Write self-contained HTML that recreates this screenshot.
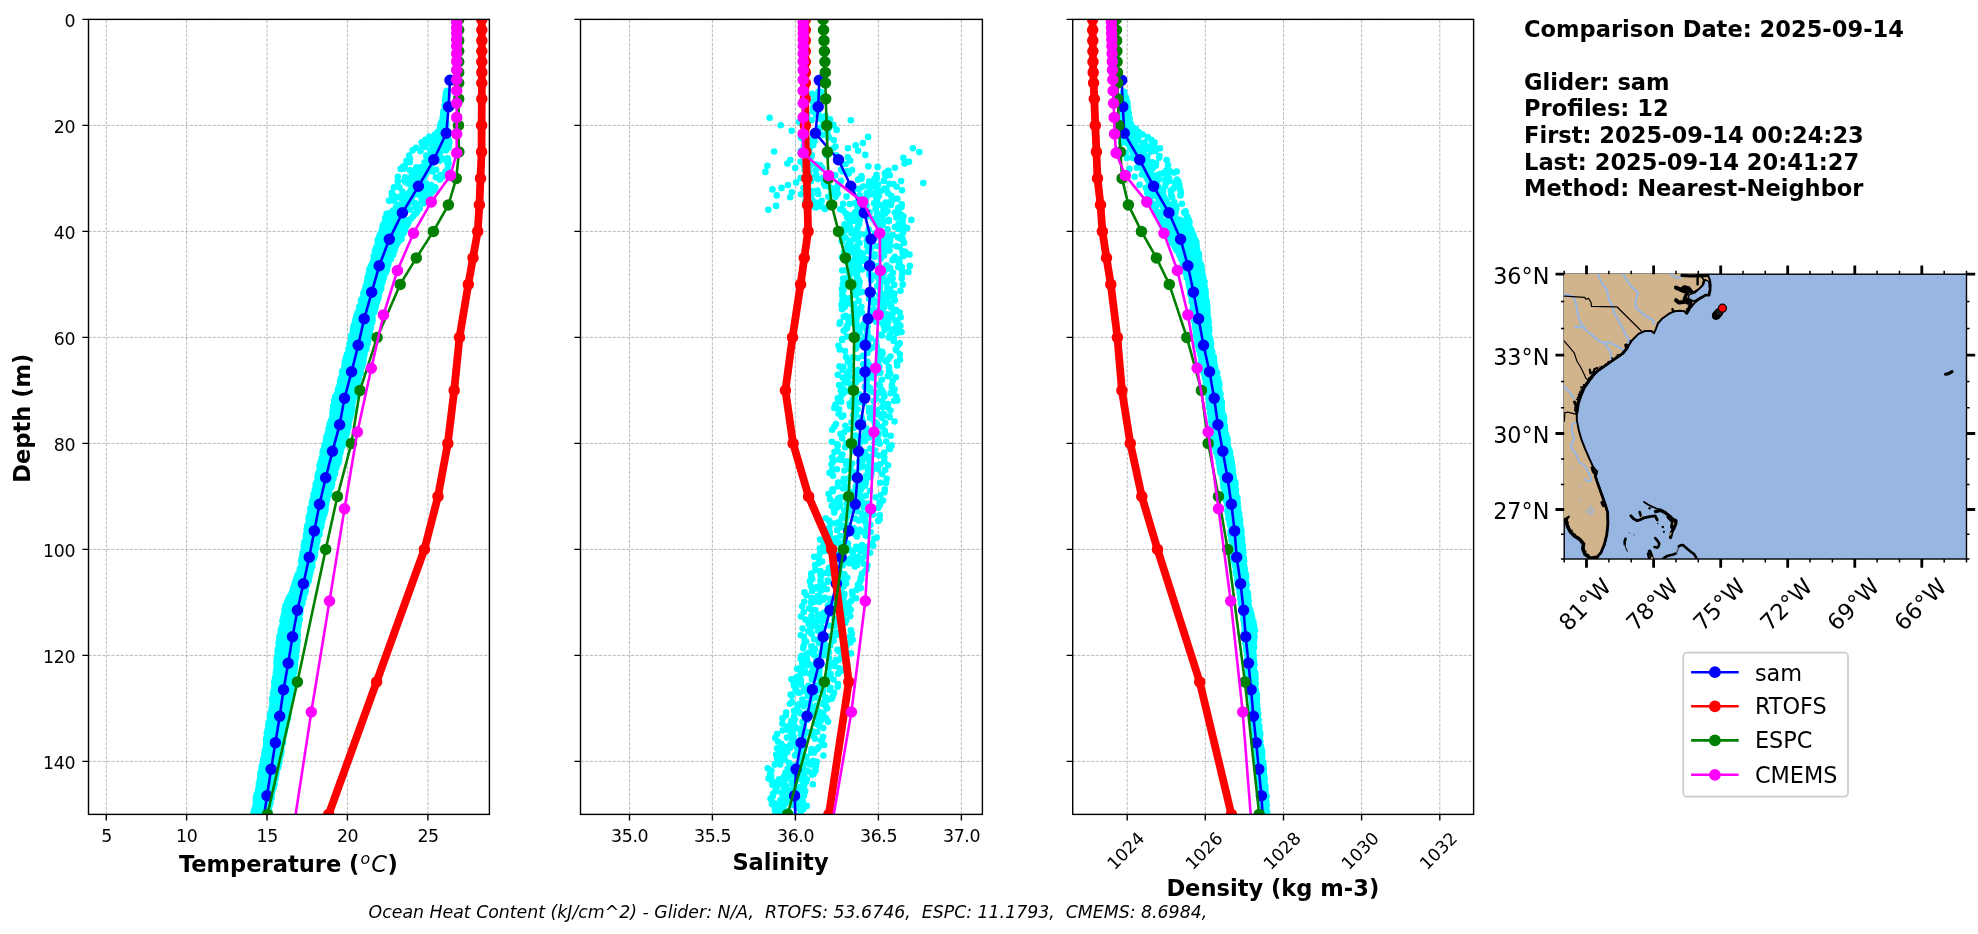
<!DOCTYPE html><html><head><meta charset="utf-8"><title>Glider comparison</title><style>html,body{margin:0;padding:0;background:#fff}svg{display:block;will-change:transform}text{font-family:'DejaVu Sans','Liberation Sans',sans-serif;fill:#000}</style></head><body>
<svg width="1978" height="934" viewBox="0 0 1978 934">
<rect width="1978" height="934" fill="#fff"/>
<clipPath id="c0"><rect x="88.5" y="19.4" width="400.9" height="795.0"/></clipPath>
<path d="M106.3 814.4V19.4M186.6 814.4V19.4M267.0 814.4V19.4M347.4 814.4V19.4M427.9 814.4V19.4M88.5 19.4H489.4M88.5 125.4H489.4M88.5 231.4H489.4M88.5 337.4H489.4M88.5 443.4H489.4M88.5 549.4H489.4M88.5 655.4H489.4M88.5 761.4H489.4" stroke="#b0b0b0" stroke-width="0.87" stroke-dasharray="3.2 1.4" fill="none"/>
<g clip-path="url(#c0)">
<polygon points="446.7,93.6 446.2,98.9 445.7,104.2 445.1,109.5 444.4,114.8 443.3,120.1 442.2,125.4 441.0,130.7 432.6,136.0 433.6,141.3 431.1,146.6 428.6,151.9 426.1,157.2 423.3,162.5 420.2,167.8 417.1,173.1 414.0,178.4 410.9,183.7 407.8,189.0 404.6,194.3 401.4,199.6 398.2,204.9 395.0,210.2 392.1,215.5 389.5,220.8 384.4,226.1 382.7,231.4 380.7,236.7 379.0,242.0 377.6,247.3 376.1,252.6 374.7,257.9 372.9,263.2 371.2,268.5 369.9,273.8 368.5,279.1 367.2,284.4 365.8,289.7 364.4,295.0 362.8,300.3 361.2,305.6 359.6,310.9 357.9,316.2 356.5,321.5 355.1,326.8 353.8,332.1 352.5,337.4 351.2,342.7 349.9,348.0 348.5,353.3 347.2,358.6 345.8,363.9 344.4,369.2 343.0,374.5 341.5,379.8 340.0,385.1 338.5,390.4 337.1,395.7 335.8,401.0 334.8,406.3 333.7,411.6 332.7,416.9 331.6,422.2 330.4,427.5 329.1,432.8 327.8,438.1 326.4,443.4 325.1,448.7 323.8,454.0 322.6,459.3 321.3,464.6 320.1,469.9 318.8,475.2 317.6,480.5 316.5,485.8 315.4,491.1 314.2,496.4 313.1,501.7 312.1,507.0 311.1,512.3 310.2,517.6 309.3,522.9 308.3,528.2 307.4,533.5 306.5,538.8 305.6,544.1 304.7,549.4 303.8,554.7 302.9,560.0 301.8,565.3 300.8,570.6 298.8,575.9 296.8,581.2 294.7,586.5 292.7,591.8 290.6,597.1 288.6,602.4 286.5,607.7 285.4,613.0 284.4,618.3 283.4,623.6 282.5,628.9 281.5,634.2 280.6,639.5 279.7,644.8 279.2,650.1 278.7,655.4 278.1,660.7 277.6,666.0 277.0,671.3 276.4,676.6 275.7,681.9 275.1,687.2 274.6,692.5 273.9,697.8 273.1,703.1 272.3,708.4 271.6,713.7 270.8,719.0 269.9,724.3 269.0,729.6 268.2,734.9 267.3,740.2 266.5,745.5 265.6,750.8 264.8,756.1 263.9,761.4 262.9,766.7 262.0,772.0 261.1,777.3 260.2,782.6 259.2,787.9 258.3,793.2 257.4,798.5 256.6,803.8 255.7,809.1 254.8,814.4 254.1,819.7 266.1,819.7 266.8,814.4 267.9,809.1 269.0,803.8 270.0,798.5 271.1,793.2 272.2,787.9 273.4,782.6 274.5,777.3 275.6,772.0 276.7,766.7 277.9,761.4 278.9,756.1 279.9,750.8 280.9,745.5 281.9,740.2 283.0,734.9 284.0,729.6 285.0,724.3 286.0,719.0 287.0,713.7 287.9,708.4 288.8,703.1 289.7,697.8 290.6,692.5 291.1,687.2 291.7,681.9 292.4,676.6 293.0,671.3 293.6,666.0 294.1,660.7 294.7,655.4 295.2,650.1 295.7,644.8 296.1,639.5 296.6,634.2 297.2,628.9 297.7,623.6 298.3,618.3 298.8,613.0 299.5,607.7 301.0,602.4 302.5,597.1 304.0,591.8 305.4,586.5 306.9,581.2 308.4,575.9 309.8,570.6 311.1,565.3 312.4,560.0 313.6,554.7 314.7,549.4 315.9,544.1 317.0,538.8 318.2,533.5 319.3,528.2 320.6,522.9 321.8,517.6 323.1,512.3 324.3,507.0 325.7,501.7 327.1,496.4 328.6,491.1 330.0,485.8 331.5,480.5 333.0,475.2 334.6,469.9 336.1,464.6 337.7,459.3 339.3,454.0 340.9,448.7 342.5,443.4 344.1,438.1 345.8,432.8 347.4,427.5 348.5,422.2 349.5,416.9 350.4,411.6 351.3,406.3 352.2,401.0 353.4,395.7 354.7,390.4 356.1,385.1 357.4,379.8 358.8,374.5 360.1,369.2 361.4,363.9 362.6,358.6 363.9,353.3 365.2,348.0 366.4,342.7 367.5,337.4 368.6,332.1 369.6,326.8 370.7,321.5 371.9,316.2 373.3,310.9 374.7,305.6 376.1,300.3 377.4,295.0 379.1,289.7 380.7,284.4 382.4,279.1 384.0,273.8 385.7,268.5 387.6,263.2 389.7,257.9 392.4,252.6 395.0,247.3 397.6,242.0 400.5,236.7 403.7,231.4 405.9,226.1 402.5,220.8 405.1,215.5 408.0,210.2 411.2,204.9 414.4,199.6 417.6,194.3 420.8,189.0 423.9,183.7 427.0,178.4 430.1,173.1 433.2,167.8 436.3,162.5 439.1,157.2 441.6,151.9 444.1,146.6 446.6,141.3 447.1,136.0 445.0,130.7 444.8,125.4 444.6,120.1 444.4,114.8 445.1,109.5 445.7,104.2 446.2,98.9 446.7,93.6" fill="#00ffff"/>
<path d="M446.6 91.1h0M447.1 90.9h0M446.9 91.7h0M446.9 92.0h0M446.9 92.0h0M445.9 93.6h0M446.5 95.5h0M445.9 93.9h0M447.2 94.7h0M446.8 94.7h0M447.3 96.1h0M447.0 96.8h0M445.6 96.3h0M446.6 97.3h0M446.4 97.3h0M446.4 99.6h0M446.2 98.8h0M445.1 99.2h0M445.6 100.0h0M446.3 100.0h0M445.7 102.1h0M446.5 103.1h0M445.2 102.8h0M446.0 102.6h0M446.6 102.6h0M446.8 104.2h0M445.4 105.9h0M444.7 105.2h0M445.3 105.3h0M446.0 105.3h0M446.4 107.4h0M445.8 108.2h0M445.5 107.8h0M445.3 107.9h0M445.7 107.9h0M443.6 111.1h0M445.4 111.9h0M445.9 110.0h0M444.4 110.6h0M445.8 110.6h0M443.5 112.2h0M443.2 113.9h0M443.4 112.5h0M444.3 113.2h0M445.6 113.2h0M444.5 116.9h0M445.5 116.8h0M443.5 115.6h0M443.8 115.9h0M445.9 115.9h0M442.7 117.8h0M442.9 118.5h0M444.5 117.9h0M442.5 118.5h0M445.4 118.5h0M446.1 121.7h0M443.9 121.5h0M444.7 120.0h0M442.5 121.2h0M445.2 121.2h0M443.0 123.5h0M441.4 124.2h0M441.1 122.7h0M441.0 123.8h0M446.4 123.8h0M440.2 125.5h0M440.9 126.1h0M440.4 127.5h0M440.5 126.5h0M446.0 126.5h0M442.2 128.1h0M445.6 130.4h0M442.9 129.1h0M439.8 129.1h0M446.3 129.1h0M445.7 130.9h0M438.1 133.0h0M442.9 130.8h0M437.9 131.8h0M445.9 131.8h0M446.4 134.9h0M437.6 134.1h0M436.2 135.1h0M441.6 135.1h0M438.6 133.7h0M435.2 134.4h0M447.2 134.4h0M445.3 137.7h0M433.5 137.1h0M436.1 135.8h0M429.5 136.5h0M434.1 137.6h0M429.6 137.1h0M447.5 137.1h0M448.3 139.4h0M429.8 139.0h0M429.2 138.9h0M440.0 140.8h0M445.4 139.7h0M425.4 139.7h0M448.5 139.7h0M447.0 143.1h0M442.3 142.3h0M425.5 143.1h0M430.0 143.2h0M448.8 142.1h0M421.7 142.4h0M449.4 142.4h0M422.7 146.1h0M441.7 145.9h0M448.8 144.6h0M434.1 143.7h0M432.9 147.5h0M444.7 146.9h0M425.3 147.0h0M433.6 147.4h0M416.1 147.7h0M448.5 147.7h0M433.5 150.1h0M445.9 150.4h0M430.7 150.2h0M420.5 151.1h0M412.7 150.3h0M430.3 153.0h0M431.4 151.9h0M430.4 152.4h0M439.9 153.1h0M426.3 155.6h0M429.1 155.5h0M429.1 156.8h0M436.7 156.8h0M409.2 155.6h0M440.4 157.3h0M426.8 157.6h0M410.0 159.0h0M443.3 158.8h0M447.6 158.3h0M447.0 162.1h0M424.6 162.2h0M439.7 160.7h0M427.4 160.1h0M406.5 160.9h0M448.1 160.9h0M424.9 163.1h0M431.8 162.4h0M448.0 164.8h0M409.8 162.3h0M448.5 163.6h0M421.6 167.1h0M416.6 167.3h0M428.5 165.1h0M404.7 166.0h0M403.4 166.2h0M436.1 169.8h0M403.7 168.7h0M416.6 170.0h0M415.8 168.9h0M400.7 168.9h0M447.7 168.9h0M411.3 171.0h0M432.5 171.5h0M410.0 170.2h0M413.7 172.1h0M445.5 171.5h0M440.7 175.0h0M420.0 175.0h0M416.6 174.7h0M443.6 175.0h0M417.9 175.6h0M405.1 177.4h0M411.6 175.7h0M435.9 177.3h0M397.8 176.8h0M442.5 176.8h0M405.4 178.8h0M439.9 179.6h0M407.5 179.0h0M414.8 179.1h0M404.3 180.8h0M409.6 181.8h0M397.8 181.6h0M405.8 182.2h0M425.9 184.5h0M408.7 183.8h0M426.3 183.6h0M431.1 185.1h0M399.5 187.4h0M429.4 188.3h0M418.6 187.9h0M421.0 186.2h0M394.0 187.4h0M435.2 187.4h0M416.0 190.4h0M418.9 188.7h0M426.1 190.1h0M415.0 188.9h0M434.4 190.1h0M402.5 191.9h0M422.0 192.7h0M409.2 193.2h0M423.1 193.1h0M391.8 192.7h0M431.5 192.7h0M402.9 194.1h0M393.9 195.8h0M418.4 194.8h0M410.9 195.3h0M392.0 195.4h0M429.2 195.4h0M425.5 197.9h0M421.7 197.9h0M402.4 199.2h0M398.0 197.1h0M394.0 200.7h0M422.5 199.9h0M421.7 199.4h0M389.1 200.5h0M389.2 200.7h0M426.3 200.7h0M417.3 204.0h0M417.3 204.4h0M414.2 202.8h0M403.6 204.6h0M424.0 203.3h0M399.2 204.9h0M415.3 207.1h0M398.3 206.0h0M396.0 207.2h0M408.2 209.8h0M405.4 207.4h0M409.7 209.3h0M406.9 207.4h0M419.8 208.6h0M399.0 211.9h0M417.2 211.7h0M396.0 211.0h0M393.2 210.5h0M392.3 215.0h0M415.6 213.8h0M389.9 213.1h0M388.4 213.5h0M388.5 213.2h0M386.6 213.9h0M414.6 213.9h0M396.8 216.3h0M399.9 216.2h0M394.7 215.4h0M393.0 217.8h0M388.7 216.6h0M386.5 216.6h0M413.0 216.6h0M391.2 218.9h0M396.4 220.4h0M407.1 220.2h0M385.2 218.0h0M403.4 220.3h0M385.5 219.2h0M410.5 219.2h0M407.4 222.7h0M405.6 223.1h0M390.2 220.8h0M387.9 221.9h0M401.2 223.0h0M384.9 221.9h0M408.6 221.9h0M397.0 223.3h0M402.7 223.8h0M406.2 224.9h0M390.7 223.5h0M389.4 224.9h0M383.3 224.5h0M407.4 224.5h0M396.8 226.9h0M387.9 227.4h0M382.6 226.6h0M393.8 228.4h0M398.3 228.2h0M382.7 227.2h0M405.7 227.2h0M398.8 229.3h0M382.1 229.8h0M398.1 229.6h0M387.8 230.3h0M404.2 229.1h0M382.0 229.8h0M405.0 229.8h0M385.4 233.2h0M398.5 232.5h0M385.6 233.7h0M388.2 233.3h0M386.2 231.7h0M381.1 232.5h0M404.0 232.5h0M384.0 234.4h0M389.4 235.5h0M402.0 234.2h0M388.9 234.3h0M402.6 234.2h0M379.7 235.1h0M401.8 235.1h0M398.9 238.4h0M401.5 238.9h0M386.2 236.9h0M400.1 238.4h0M379.3 238.2h0M379.2 237.8h0M401.3 237.8h0M377.8 239.8h0M385.6 241.6h0M380.5 241.6h0M382.4 240.0h0M396.1 241.3h0M377.8 240.4h0M399.5 240.4h0M397.0 242.2h0M384.9 244.1h0M377.7 242.8h0M394.7 243.8h0M377.9 241.8h0M378.4 243.1h0M397.6 243.1h0M395.3 245.3h0M382.1 246.9h0M389.4 245.1h0M391.5 245.2h0M382.1 244.4h0M377.7 245.7h0M396.0 245.7h0M376.1 247.7h0M385.4 249.6h0M395.2 248.1h0M380.7 248.2h0M385.7 249.5h0M376.8 248.4h0M394.9 248.4h0M390.3 251.3h0M381.4 250.5h0M382.1 251.8h0M376.5 250.2h0M389.9 250.3h0M374.9 251.0h0M394.3 251.0h0M393.1 254.7h0M393.3 253.0h0M375.8 252.6h0M383.8 254.2h0M382.8 253.0h0M375.1 253.7h0M392.4 253.7h0M389.3 256.7h0M375.7 257.2h0M379.0 256.5h0M380.5 256.9h0M377.2 255.6h0M373.7 256.3h0M391.3 256.3h0M378.6 258.7h0M390.9 259.0h0M376.9 259.8h0M384.6 260.3h0M374.5 258.9h0M373.9 259.0h0M390.9 259.0h0M377.1 260.6h0M375.2 262.9h0M382.3 262.7h0M378.5 262.6h0M379.9 261.0h0M373.1 261.6h0M389.0 261.6h0M382.0 263.5h0M377.4 263.3h0M374.5 263.6h0M381.6 264.7h0M374.5 263.0h0M371.8 264.3h0M388.4 264.3h0M373.6 267.7h0M379.8 265.8h0M371.8 266.6h0M379.8 267.3h0M371.6 266.0h0M370.6 266.9h0M387.4 266.9h0M386.2 269.1h0M379.3 269.2h0M376.7 270.5h0M387.0 269.2h0M372.8 270.2h0M369.3 269.6h0M386.4 269.6h0M383.0 272.0h0M384.1 272.1h0M371.5 270.9h0M378.3 272.6h0M384.6 271.1h0M369.1 272.2h0M386.0 272.2h0M372.9 274.9h0M384.1 273.8h0M376.5 275.7h0M384.8 274.1h0M370.1 276.0h0M368.6 274.9h0M384.0 274.9h0M374.0 278.6h0M378.0 278.4h0M370.0 278.3h0M371.1 277.3h0M381.9 278.4h0M367.6 277.5h0M383.8 277.5h0M373.1 279.2h0M370.8 280.8h0M382.0 278.9h0M376.2 280.8h0M367.2 281.1h0M367.4 280.2h0M382.8 280.2h0M371.1 282.6h0M375.8 282.6h0M377.1 282.7h0M373.3 281.5h0M376.4 282.8h0M367.0 282.8h0M382.2 282.8h0M368.2 285.4h0M367.0 284.5h0M372.5 284.4h0M372.7 285.5h0M365.9 285.8h0M366.3 285.5h0M381.3 285.5h0M365.4 288.1h0M370.9 289.3h0M366.8 289.1h0M381.2 288.7h0M378.2 287.3h0M365.3 288.1h0M379.9 288.1h0M366.6 291.5h0M379.3 289.6h0M369.7 291.4h0M366.5 291.8h0M368.4 291.6h0M364.6 290.8h0M380.2 290.8h0M367.5 293.4h0M368.4 292.2h0M366.2 292.5h0M378.6 293.9h0M377.9 292.5h0M363.3 293.4h0M378.7 293.4h0M368.3 297.0h0M371.6 296.3h0M376.9 295.0h0M378.8 296.4h0M368.9 296.8h0M363.9 296.1h0M378.3 296.1h0M374.3 298.6h0M364.5 299.4h0M362.4 299.6h0M365.8 299.1h0M377.9 298.9h0M362.1 298.7h0M378.1 298.7h0M363.3 301.7h0M368.0 301.4h0M375.8 300.4h0M364.6 301.8h0M361.2 300.0h0M361.0 301.4h0M377.2 301.4h0M369.8 304.2h0M363.4 304.3h0M368.0 303.0h0M375.7 303.3h0M362.5 302.9h0M361.3 304.0h0M376.2 304.0h0M363.7 305.4h0M370.1 306.8h0M365.1 307.0h0M366.7 307.8h0M371.6 306.0h0M359.2 306.7h0M375.5 306.7h0M362.4 308.1h0M371.7 308.0h0M367.8 310.5h0M360.8 308.5h0M368.7 309.3h0M359.6 309.3h0M375.0 309.3h0M362.7 310.8h0M372.8 312.7h0M369.9 310.7h0M372.1 312.6h0M365.6 312.6h0M357.9 312.0h0M374.4 312.0h0M357.4 314.2h0M369.7 315.1h0M371.4 315.2h0M361.3 314.8h0M364.3 315.4h0M357.1 314.6h0M372.6 314.6h0M359.7 318.3h0M356.2 316.6h0M360.0 317.9h0M372.4 317.9h0M361.6 318.3h0M356.3 317.3h0M372.4 317.3h0M367.3 320.3h0M372.4 319.8h0M369.9 320.4h0M370.2 319.7h0M367.9 320.1h0M355.5 319.9h0M372.6 319.9h0M370.6 321.6h0M355.0 321.5h0M371.0 322.1h0M357.0 321.3h0M355.2 323.1h0M355.6 322.6h0M372.1 322.6h0M364.4 324.8h0M368.4 326.1h0M369.7 324.1h0M369.3 326.3h0M370.7 324.2h0M354.0 325.2h0M370.4 325.2h0M367.8 328.2h0M368.0 328.2h0M358.3 326.8h0M354.9 328.5h0M356.9 327.4h0M353.2 327.9h0M370.7 327.9h0M365.5 330.2h0M358.3 331.7h0M361.6 331.4h0M363.7 329.3h0M360.0 330.3h0M353.0 330.5h0M369.8 330.5h0M355.8 334.1h0M353.5 334.0h0M355.0 331.8h0M355.5 333.9h0M369.7 331.8h0M352.6 333.2h0M369.8 333.2h0M360.3 335.4h0M366.4 335.2h0M368.5 335.2h0M355.1 336.3h0M360.3 334.8h0M351.3 335.8h0M368.5 335.8h0M365.0 338.8h0M357.1 338.2h0M357.8 339.5h0M352.1 339.5h0M351.0 337.7h0M351.9 338.5h0M368.4 338.5h0M366.3 340.4h0M358.4 341.2h0M363.9 341.8h0M361.9 340.7h0M356.0 340.2h0M350.9 341.1h0M368.1 341.1h0M357.4 344.5h0M360.0 342.8h0M357.9 344.8h0M353.7 342.9h0M354.9 344.3h0M349.5 343.8h0M367.5 343.8h0M354.7 346.5h0M351.6 346.0h0M352.2 347.7h0M362.2 345.4h0M366.5 345.4h0M350.1 346.4h0M366.1 346.4h0M356.1 348.3h0M359.9 348.0h0M351.8 348.8h0M348.6 348.8h0M362.7 349.6h0M348.9 349.1h0M366.4 349.1h0M358.6 351.5h0M361.1 352.8h0M355.3 351.9h0M361.3 351.5h0M351.5 352.3h0M348.4 351.7h0M364.7 351.7h0M359.3 354.7h0M355.1 353.9h0M358.4 353.3h0M354.4 355.1h0M360.0 354.7h0M347.2 354.4h0M364.4 354.4h0M353.6 357.5h0M363.4 356.2h0M358.2 357.7h0M353.2 357.0h0M364.2 355.8h0M346.1 357.0h0M363.3 357.0h0M355.0 358.6h0M356.0 359.8h0M358.7 359.7h0M357.3 360.5h0M355.0 359.4h0M345.5 359.7h0M363.5 359.7h0M359.0 361.3h0M363.2 361.9h0M345.6 361.7h0M352.1 361.0h0M352.4 362.1h0M345.0 362.3h0M363.1 362.3h0M357.9 366.1h0M353.8 364.2h0M359.0 364.7h0M347.8 364.0h0M358.6 365.8h0M344.5 365.0h0M362.5 365.0h0M361.5 367.2h0M355.3 368.5h0M358.7 367.5h0M348.7 367.7h0M345.5 368.5h0M344.4 367.6h0M361.6 367.6h0M347.3 370.1h0M346.0 368.9h0M356.2 369.7h0M347.1 369.7h0M351.6 370.1h0M343.4 370.3h0M360.2 370.3h0M358.1 371.7h0M357.6 374.0h0M356.8 372.0h0M357.7 373.3h0M342.0 371.6h0M342.7 372.9h0M360.8 372.9h0M343.7 374.9h0M355.9 375.2h0M343.9 376.6h0M356.2 374.7h0M358.1 375.8h0M342.0 375.6h0M359.0 375.6h0M356.4 377.4h0M353.6 378.3h0M354.6 378.0h0M357.3 378.4h0M345.3 377.5h0M341.0 378.2h0M358.8 378.2h0M342.3 380.8h0M349.2 381.0h0M356.2 379.6h0M355.8 380.8h0M350.4 381.3h0M340.1 380.9h0M357.4 380.9h0M340.2 383.9h0M351.1 382.3h0M350.6 384.0h0M356.9 383.1h0M357.8 383.5h0M340.1 383.5h0M357.1 383.5h0M350.2 385.7h0M354.8 385.8h0M347.3 386.2h0M353.0 385.4h0M346.5 386.0h0M339.3 386.2h0M356.3 386.2h0M345.2 388.8h0M342.6 388.8h0M356.3 389.2h0M352.8 388.4h0M343.5 388.3h0M338.2 388.8h0M356.8 388.8h0M350.7 392.5h0M347.2 390.3h0M342.4 390.2h0M340.3 392.6h0M348.5 391.9h0M337.9 391.5h0M355.2 391.5h0M348.1 394.6h0M347.5 394.6h0M340.0 394.6h0M344.8 394.8h0M337.8 393.3h0M337.0 394.1h0M354.5 394.1h0M342.3 397.6h0M350.6 396.9h0M340.2 396.2h0M343.4 396.3h0M343.6 397.1h0M335.1 396.8h0M354.7 396.8h0M336.8 400.2h0M345.8 400.5h0M343.2 398.1h0M342.1 399.7h0M353.0 400.7h0M335.0 399.4h0M353.2 399.4h0M338.1 401.1h0M334.2 400.7h0M347.5 401.1h0M353.1 401.0h0M351.1 401.1h0M335.0 402.1h0M352.6 402.1h0M337.1 403.5h0M348.8 405.3h0M350.4 405.3h0M335.1 405.1h0M347.5 404.6h0M333.8 404.7h0M352.2 404.7h0M333.1 406.1h0M345.8 408.2h0M334.4 406.9h0M347.4 406.5h0M350.0 407.3h0M333.4 407.4h0M352.2 407.4h0M345.9 409.1h0M348.3 409.6h0M345.2 410.4h0M340.7 409.7h0M348.1 411.2h0M333.2 410.0h0M352.3 410.0h0M351.4 413.2h0M348.4 412.2h0M344.0 413.9h0M348.5 412.9h0M338.0 412.5h0M332.4 412.7h0M351.0 412.7h0M349.3 416.1h0M337.0 414.0h0M336.6 415.1h0M343.1 416.1h0M349.2 414.1h0M332.5 415.3h0M350.6 415.3h0M336.3 418.9h0M347.1 418.4h0M349.2 417.6h0M332.5 418.1h0M346.9 417.2h0M332.2 418.0h0M350.1 418.0h0M344.0 420.5h0M334.4 420.0h0M345.5 421.4h0M339.6 419.5h0M346.6 421.3h0M331.1 420.6h0M349.2 420.6h0M340.3 423.2h0M341.7 422.4h0M333.6 422.4h0M344.0 422.9h0M341.2 423.0h0M330.0 423.3h0M348.6 423.3h0M336.8 424.9h0M342.0 426.7h0M332.3 426.2h0M336.2 426.0h0M329.6 424.7h0M330.4 425.9h0M348.6 425.9h0M333.7 429.3h0M337.1 429.7h0M344.0 429.4h0M348.0 427.9h0M329.2 427.8h0M328.6 428.6h0M347.9 428.6h0M345.3 431.1h0M346.9 432.3h0M329.1 431.5h0M335.8 430.2h0M347.1 430.6h0M328.7 431.2h0M346.9 431.2h0M335.0 433.7h0M330.3 435.1h0M347.0 433.1h0M327.9 433.2h0M334.2 434.9h0M328.4 433.9h0M346.0 433.9h0M340.6 436.9h0M346.0 435.3h0M329.3 437.2h0M345.1 437.0h0M332.4 436.8h0M326.6 436.5h0M345.9 436.5h0M328.2 439.1h0M329.1 438.5h0M328.6 439.6h0M326.0 439.7h0M329.6 437.9h0M326.1 439.2h0M344.2 439.2h0M342.5 440.9h0M333.9 440.7h0M343.3 442.7h0M337.4 441.7h0M331.8 442.7h0M326.1 441.8h0M344.4 441.8h0M325.6 445.0h0M335.2 443.5h0M341.4 443.8h0M332.5 443.5h0M329.7 445.4h0M324.7 444.5h0M343.4 444.5h0M341.2 446.1h0M342.6 445.9h0M341.0 447.6h0M327.9 447.1h0M329.3 446.5h0M324.4 447.1h0M341.6 447.1h0M340.8 448.7h0M328.7 450.8h0M324.3 450.4h0M328.8 451.0h0M323.5 450.6h0M323.4 449.8h0M341.0 449.8h0M332.5 451.6h0M330.8 453.5h0M326.7 452.6h0M325.1 451.6h0M337.1 453.0h0M322.6 452.4h0M340.5 452.4h0M331.2 454.5h0M325.8 455.4h0M335.2 455.9h0M332.8 454.3h0M323.1 455.7h0M323.0 455.1h0M339.4 455.1h0M327.5 458.6h0M337.3 457.7h0M321.6 458.8h0M330.1 458.7h0M326.2 456.9h0M321.8 457.7h0M339.3 457.7h0M331.6 459.0h0M330.2 460.2h0M330.1 459.4h0M333.8 461.2h0M336.6 459.9h0M321.2 460.4h0M339.0 460.4h0M336.0 464.2h0M329.1 463.0h0M329.7 463.1h0M320.4 464.2h0M324.1 462.2h0M320.4 463.0h0M338.3 463.0h0M321.1 466.2h0M322.9 464.4h0M330.3 465.9h0M328.9 466.2h0M321.3 466.6h0M319.5 465.7h0M336.8 465.7h0M327.8 467.7h0M321.0 468.1h0M321.2 468.6h0M334.2 467.4h0M329.1 469.0h0M320.0 468.3h0M336.1 468.3h0M325.6 471.9h0M327.5 470.7h0M334.9 471.7h0M324.2 470.3h0M324.1 470.8h0M319.3 471.0h0M334.7 471.0h0M332.5 472.4h0M326.6 474.8h0M334.0 472.9h0M325.0 474.0h0M323.9 473.7h0M318.2 473.6h0M335.1 473.6h0M319.3 477.5h0M330.5 477.4h0M328.0 477.1h0M332.3 477.3h0M317.5 476.6h0M317.9 476.3h0M333.6 476.3h0M332.3 479.2h0M320.6 479.0h0M323.8 480.1h0M321.3 478.4h0M327.5 477.9h0M317.7 478.9h0M333.2 478.9h0M323.7 481.6h0M318.3 480.6h0M318.0 481.0h0M322.7 481.0h0M319.9 480.5h0M317.0 481.6h0M332.0 481.6h0M326.2 483.4h0M327.2 484.1h0M324.5 484.5h0M323.1 483.7h0M319.3 483.5h0M315.7 484.2h0M332.1 484.2h0M320.5 487.8h0M318.6 487.0h0M322.9 486.3h0M331.2 486.3h0M327.6 486.0h0M315.9 486.9h0M331.3 486.9h0M320.5 489.4h0M326.3 488.5h0M317.8 490.7h0M326.3 488.6h0M319.6 489.1h0M314.9 489.5h0M329.5 489.5h0M322.0 492.8h0M325.7 492.8h0M321.3 492.9h0M325.2 493.3h0M315.5 493.1h0M314.6 492.2h0M329.2 492.2h0M328.6 495.0h0M319.7 495.6h0M327.2 495.1h0M319.1 494.7h0M320.4 495.4h0M313.5 494.8h0M328.7 494.8h0M317.5 498.2h0M326.1 497.5h0M319.5 496.6h0M317.2 496.5h0M321.6 497.7h0M313.7 497.5h0M327.3 497.5h0M325.2 501.3h0M315.0 499.9h0M326.4 498.8h0M312.5 500.3h0M319.7 501.2h0M312.5 500.1h0M327.0 500.1h0M319.4 503.3h0M317.4 502.4h0M320.6 502.4h0M326.3 503.2h0M319.5 501.7h0M311.8 502.8h0M326.2 502.8h0M324.5 506.6h0M318.3 505.3h0M320.5 506.7h0M316.0 505.5h0M323.5 504.5h0M312.1 505.4h0M325.6 505.4h0M311.9 509.1h0M320.9 508.9h0M325.6 509.1h0M316.7 507.1h0M314.7 508.1h0M310.5 508.1h0M324.8 508.1h0M319.0 510.3h0M325.1 511.1h0M310.4 510.5h0M321.9 510.2h0M320.4 509.4h0M311.0 510.7h0M324.1 510.7h0M312.2 513.4h0M317.7 512.7h0M319.1 513.4h0M324.5 513.6h0M315.5 512.4h0M310.4 513.4h0M324.4 513.4h0M311.3 516.1h0M321.2 516.3h0M321.0 514.8h0M309.0 516.7h0M313.7 516.6h0M309.0 516.0h0M323.7 516.0h0M321.8 518.9h0M313.5 518.5h0M314.1 517.5h0M321.6 518.9h0M322.7 518.5h0M308.7 518.7h0M321.9 518.7h0M320.5 520.8h0M321.1 522.1h0M312.3 521.6h0M322.1 521.3h0M321.9 520.6h0M308.9 521.3h0M322.2 521.3h0M320.2 523.9h0M319.0 523.3h0M309.9 523.6h0M310.1 525.2h0M311.6 524.1h0M308.2 524.0h0M321.4 524.0h0M307.8 525.6h0M318.9 526.2h0M310.5 525.8h0M311.0 525.9h0M307.4 527.0h0M307.1 526.6h0M321.3 526.6h0M310.3 530.1h0M308.3 529.1h0M318.4 530.1h0M308.7 528.9h0M316.8 528.9h0M306.7 529.3h0M320.0 529.3h0M309.2 531.8h0M307.8 532.5h0M309.7 533.0h0M314.3 531.6h0M309.5 532.2h0M307.3 531.9h0M319.4 531.9h0M313.2 534.0h0M316.4 534.3h0M314.8 534.7h0M309.9 534.3h0M306.7 533.7h0M306.0 534.6h0M319.5 534.6h0M312.9 536.8h0M312.1 536.7h0M306.0 536.7h0M308.3 536.2h0M315.1 536.6h0M306.5 537.2h0M317.7 537.2h0M316.6 538.9h0M308.5 538.6h0M314.1 540.3h0M309.5 539.6h0M313.8 540.4h0M305.9 539.9h0M317.5 539.9h0M306.7 541.5h0M316.7 543.1h0M314.0 541.3h0M304.7 541.6h0M306.9 542.0h0M304.3 542.5h0M317.0 542.5h0M306.2 546.1h0M311.5 545.7h0M307.2 545.0h0M313.1 544.8h0M303.8 546.0h0M304.2 545.2h0M316.1 545.2h0M311.5 546.6h0M306.6 546.8h0M314.0 547.0h0M315.6 548.5h0M304.5 548.3h0M304.4 547.8h0M316.4 547.8h0M304.1 551.6h0M308.5 551.6h0M312.1 551.1h0M313.9 550.8h0M308.9 549.3h0M303.5 550.5h0M314.8 550.5h0M304.1 553.8h0M303.0 553.6h0M313.1 552.5h0M309.6 554.4h0M310.8 553.2h0M302.5 553.1h0M315.0 553.1h0M304.6 555.3h0M303.7 556.3h0M310.7 555.1h0M305.1 555.8h0M307.8 556.9h0M302.4 555.8h0M314.8 555.8h0M308.8 558.0h0M312.1 558.5h0M311.3 557.5h0M310.1 558.7h0M307.5 559.1h0M301.7 558.4h0M313.9 558.4h0M303.6 559.9h0M304.6 560.3h0M310.0 560.9h0M302.4 560.6h0M307.0 560.7h0M301.1 561.1h0M312.3 561.1h0M310.0 562.6h0M309.6 565.0h0M307.6 562.7h0M306.7 563.5h0M302.9 563.8h0M301.8 563.7h0M312.2 563.7h0M311.7 566.8h0M303.1 565.7h0M301.7 565.1h0M309.7 567.3h0M303.7 565.5h0M301.2 566.4h0M312.3 566.4h0M309.2 569.9h0M308.7 568.6h0M301.7 569.9h0M303.4 568.7h0M306.3 568.7h0M299.8 569.0h0M311.0 569.0h0M306.6 572.5h0M307.5 572.7h0M310.5 571.6h0M304.9 570.8h0M302.4 571.9h0M299.7 571.7h0M310.5 571.7h0M310.1 573.2h0M298.2 574.1h0M300.1 574.9h0M297.7 575.2h0M308.6 575.1h0M298.1 574.3h0M309.7 574.3h0M302.2 576.5h0M302.4 577.4h0M307.5 578.0h0M298.8 576.4h0M302.5 577.1h0M297.0 577.0h0M309.3 577.0h0M301.8 580.9h0M307.8 580.6h0M308.7 580.8h0M304.0 580.4h0M296.5 580.1h0M296.1 579.6h0M307.6 579.6h0M301.2 582.7h0M298.8 581.8h0M306.8 581.0h0M297.2 582.7h0M300.8 581.2h0M295.2 582.3h0M307.7 582.3h0M301.0 585.1h0M299.2 583.9h0M296.2 585.9h0M301.3 583.9h0M305.7 584.3h0M294.4 584.9h0M306.9 584.9h0M300.5 586.8h0M300.8 586.5h0M299.9 587.8h0M293.8 587.3h0M293.7 587.4h0M293.4 587.6h0M305.7 587.6h0M293.3 591.5h0M302.1 589.2h0M303.6 589.9h0M294.1 591.4h0M299.8 590.9h0M292.8 590.2h0M305.7 590.2h0M296.1 591.6h0M299.4 592.1h0M295.0 593.4h0M296.9 593.9h0M299.8 593.8h0M291.9 592.9h0M305.1 592.9h0M300.8 595.1h0M301.1 596.0h0M302.0 594.5h0M295.2 596.1h0M303.8 596.1h0M290.4 595.5h0M303.8 595.5h0M300.8 597.1h0M302.7 598.6h0M292.4 597.3h0M295.4 599.1h0M297.4 597.1h0M288.7 598.2h0M303.6 598.2h0M296.2 600.3h0M298.2 600.5h0M289.7 601.8h0M295.9 601.3h0M300.1 602.0h0M288.0 600.8h0M302.4 600.8h0M300.4 604.3h0M287.0 602.6h0M299.5 603.9h0M292.7 603.4h0M289.0 604.4h0M287.8 603.5h0M302.3 603.5h0M290.8 605.4h0M299.9 606.3h0M286.1 605.2h0M291.3 606.0h0M294.8 605.8h0M285.4 606.1h0M301.1 606.1h0M284.9 608.7h0M300.8 607.6h0M287.0 609.2h0M289.1 608.2h0M292.8 608.1h0M285.4 608.8h0M299.6 608.8h0M284.6 611.6h0M296.9 612.4h0M296.9 611.8h0M294.6 611.0h0M288.7 612.2h0M285.4 611.4h0M300.2 611.4h0M296.4 614.7h0M292.1 614.4h0M289.4 614.2h0M290.4 612.9h0M289.2 613.6h0M284.2 614.1h0M300.1 614.1h0M287.0 616.3h0M285.3 615.4h0M297.9 616.6h0M290.7 616.9h0M288.2 615.8h0M283.5 616.7h0M299.1 616.7h0M292.1 620.5h0M288.4 620.5h0M292.7 618.2h0M285.6 619.6h0M299.7 619.0h0M283.2 619.4h0M299.8 619.4h0M290.6 623.1h0M286.9 621.4h0M282.4 621.1h0M286.8 622.6h0M285.9 621.7h0M282.9 622.0h0M298.6 622.0h0M285.0 625.3h0M298.7 624.9h0M283.0 625.5h0M297.1 624.2h0M284.0 623.8h0M282.9 624.7h0M297.9 624.7h0M284.9 626.9h0M294.5 627.7h0M288.4 627.8h0M287.1 626.1h0M288.5 626.1h0M281.6 627.3h0M298.2 627.3h0M285.3 629.9h0M280.8 631.1h0M290.8 631.3h0M281.6 630.3h0M293.8 629.5h0M280.8 630.0h0M297.6 630.0h0M281.7 633.4h0M287.9 632.7h0M290.9 632.8h0M292.2 632.9h0M286.2 633.2h0M281.2 632.6h0M297.3 632.6h0M285.4 636.0h0M297.8 635.1h0M284.8 635.3h0M297.1 634.3h0M279.8 635.2h0M280.8 635.3h0M296.7 635.3h0M283.4 638.6h0M280.8 636.7h0M281.7 636.7h0M288.6 638.1h0M282.6 639.1h0M279.4 637.9h0M296.9 637.9h0M296.3 639.7h0M279.3 641.3h0M283.3 641.8h0M288.2 640.9h0M285.3 641.4h0M279.2 640.6h0M297.6 640.6h0M292.4 642.1h0M290.7 642.9h0M294.9 642.0h0M289.1 643.0h0M296.0 644.4h0M278.6 643.2h0M297.1 643.2h0M286.3 645.1h0M281.8 646.5h0M290.4 645.3h0M297.2 645.1h0M289.0 645.0h0M279.2 645.9h0M296.2 645.9h0M293.6 647.9h0M284.1 648.5h0M294.9 647.6h0M290.9 648.8h0M286.4 648.7h0M278.0 648.5h0M296.5 648.5h0M292.5 652.1h0M280.9 652.1h0M296.7 650.6h0M277.9 650.1h0M296.3 649.9h0M277.6 651.2h0M296.6 651.2h0M280.4 654.3h0M278.9 653.4h0M294.9 654.4h0M294.2 655.1h0M277.8 653.1h0M278.1 653.8h0M295.8 653.8h0M281.3 656.3h0M278.9 655.2h0M296.1 656.0h0M293.9 655.5h0M286.3 655.5h0M277.1 656.5h0M296.0 656.5h0M290.9 659.1h0M278.8 658.7h0M286.2 660.2h0M283.4 658.4h0M295.4 660.1h0M277.0 659.1h0M295.6 659.1h0M277.7 660.5h0M286.2 661.5h0M287.1 661.4h0M276.5 662.3h0M289.0 661.9h0M277.4 661.8h0M294.4 661.8h0M290.0 664.1h0M282.2 664.2h0M294.9 664.1h0M283.5 664.2h0M278.8 665.7h0M277.0 664.4h0M295.1 664.4h0M287.6 666.7h0M280.4 666.3h0M278.0 668.0h0M291.0 668.1h0M276.7 667.6h0M276.7 667.1h0M294.7 667.1h0M294.3 668.4h0M289.9 670.6h0M285.3 670.0h0M294.7 669.0h0M287.7 670.4h0M276.5 669.7h0M294.0 669.7h0M287.0 672.8h0M281.4 672.7h0M285.7 671.6h0M287.0 671.7h0M292.8 672.3h0M275.9 672.4h0M294.2 672.4h0M277.6 676.1h0M285.1 675.1h0M285.1 675.8h0M279.5 674.1h0M290.8 674.9h0M276.1 675.0h0M292.9 675.0h0M275.4 677.3h0M290.7 678.5h0M276.9 676.7h0M279.4 676.6h0M281.4 678.5h0M275.2 677.7h0M293.3 677.7h0M293.6 680.8h0M282.9 680.3h0M289.7 681.0h0M277.1 680.8h0M281.3 680.4h0M274.8 680.3h0M293.1 680.3h0M274.3 682.2h0M285.0 681.8h0M277.4 683.5h0M279.2 682.5h0M278.6 683.8h0M274.9 683.0h0M293.0 683.0h0M281.8 686.4h0M285.6 685.3h0M274.5 685.5h0M280.7 686.2h0M279.3 685.4h0M274.8 685.6h0M292.4 685.6h0M284.5 689.4h0M277.0 689.5h0M287.1 687.9h0M286.2 687.8h0M274.7 688.9h0M274.1 688.3h0M291.4 688.3h0M287.7 689.7h0M284.5 690.8h0M282.0 691.8h0M281.1 690.8h0M290.3 690.8h0M273.8 690.9h0M291.4 690.9h0M287.1 693.3h0M273.6 694.0h0M283.5 694.3h0M287.7 692.5h0M277.0 692.4h0M272.9 693.6h0M291.0 693.6h0M283.3 695.0h0M285.5 696.8h0M281.7 695.0h0M285.7 696.0h0M283.7 697.5h0M273.7 696.2h0M291.2 696.2h0M282.0 697.6h0M291.0 698.3h0M277.0 698.4h0M276.9 699.8h0M282.7 698.9h0M272.1 698.9h0M289.9 698.9h0M287.0 702.5h0M276.5 700.7h0M272.6 701.6h0M278.8 701.4h0M281.0 701.7h0M272.8 701.5h0M289.4 701.5h0M281.8 703.0h0M277.2 704.2h0M279.0 704.3h0M277.4 703.6h0M286.4 703.6h0M272.5 704.2h0M289.6 704.2h0M288.6 706.7h0M287.5 705.6h0M279.1 707.2h0M271.8 707.8h0M272.2 707.1h0M272.3 706.8h0M288.7 706.8h0M279.9 709.9h0M283.2 708.9h0M274.5 710.4h0M273.2 710.6h0M274.4 708.4h0M271.7 709.5h0M288.8 709.5h0M282.5 711.5h0M287.2 712.6h0M273.0 710.9h0M283.2 710.9h0M285.9 711.6h0M271.0 712.1h0M288.1 712.1h0M272.6 715.9h0M275.8 715.7h0M272.6 715.6h0M288.1 714.5h0M270.3 714.4h0M270.1 714.8h0M288.3 714.8h0M278.0 718.0h0M277.4 717.9h0M271.5 718.3h0M271.6 718.5h0M287.9 718.6h0M269.8 717.4h0M286.9 717.4h0M278.1 721.2h0M270.6 720.0h0M285.0 720.3h0M279.0 719.0h0M271.5 719.5h0M270.2 720.1h0M286.1 720.1h0M269.1 723.0h0M286.4 722.3h0M286.0 723.1h0M269.4 722.3h0M276.8 722.0h0M268.7 722.7h0M286.5 722.7h0M269.3 725.5h0M269.8 725.5h0M282.6 725.6h0M276.5 724.1h0M277.5 724.3h0M268.2 725.4h0M286.0 725.4h0M274.5 728.4h0M270.6 727.1h0M284.9 727.6h0M283.1 729.0h0M276.4 727.1h0M268.9 728.0h0M285.2 728.0h0M277.0 729.6h0M275.7 729.8h0M277.0 730.7h0M273.9 729.9h0M274.6 729.9h0M267.5 730.7h0M284.7 730.7h0M283.0 732.0h0M283.9 733.3h0M281.2 733.5h0M279.3 732.6h0M280.4 732.4h0M266.8 733.3h0M284.2 733.3h0M271.6 737.0h0M267.8 736.2h0M270.6 736.2h0M280.5 736.5h0M267.4 735.3h0M267.8 736.0h0M283.5 736.0h0M278.4 739.4h0M272.1 739.4h0M274.2 739.7h0M266.1 739.8h0M273.3 738.4h0M266.3 738.6h0M282.9 738.6h0M268.2 740.8h0M268.0 740.5h0M269.4 740.8h0M283.0 742.6h0M279.7 741.2h0M266.6 741.3h0M282.3 741.3h0M276.4 743.1h0M276.2 744.8h0M279.1 742.8h0M277.9 743.5h0M267.9 745.1h0M266.1 743.9h0M281.7 743.9h0M281.3 747.6h0M277.9 747.4h0M278.9 746.8h0M272.4 747.4h0M278.6 747.5h0M266.0 746.6h0M281.0 746.6h0M266.2 750.5h0M278.1 748.6h0M279.1 748.5h0M267.7 749.1h0M268.4 749.2h0M265.2 749.2h0M281.3 749.2h0M277.6 752.6h0M275.8 753.0h0M278.3 751.6h0M265.3 752.3h0M278.5 751.4h0M265.0 751.9h0M281.4 751.9h0M271.9 753.2h0M265.3 755.3h0M270.7 754.8h0M271.4 754.1h0M267.1 754.1h0M264.2 754.5h0M280.8 754.5h0M267.6 757.7h0M270.6 757.6h0M277.0 756.2h0M274.8 755.9h0M277.3 756.3h0M264.3 757.2h0M280.1 757.2h0M278.0 760.1h0M278.0 759.5h0M271.2 761.0h0M271.3 761.1h0M265.8 760.7h0M263.2 759.8h0M279.6 759.8h0M278.4 762.3h0M276.0 761.8h0M268.1 761.4h0M271.6 763.4h0M270.9 762.1h0M263.3 762.5h0M279.2 762.5h0M272.3 765.0h0M278.1 764.7h0M272.9 765.5h0M268.0 765.2h0M273.2 766.2h0M262.1 765.1h0M278.7 765.1h0M275.4 768.2h0M270.6 767.6h0M273.9 768.8h0M273.5 768.4h0M261.6 767.3h0M262.5 767.8h0M278.0 767.8h0M270.6 770.6h0M261.4 770.1h0M273.3 770.8h0M265.4 771.1h0M265.5 770.5h0M262.0 770.4h0M276.4 770.4h0M271.6 772.7h0M276.4 773.6h0M271.8 772.5h0M262.9 773.3h0M274.1 773.8h0M260.3 773.1h0M275.7 773.1h0M262.4 776.3h0M262.5 775.2h0M260.5 775.2h0M266.1 776.9h0M275.9 774.9h0M261.1 775.7h0M276.0 775.7h0M266.5 777.3h0M263.5 778.1h0M265.6 779.6h0M263.7 777.6h0M274.4 778.2h0M260.1 778.4h0M275.5 778.4h0M261.3 781.7h0M266.6 781.2h0M269.9 781.7h0M263.3 780.6h0M274.0 781.1h0M259.7 781.0h0M274.2 781.0h0M259.0 784.5h0M267.6 783.3h0M273.8 783.0h0M262.3 782.5h0M267.3 784.3h0M258.9 783.7h0M274.7 783.7h0M262.9 786.7h0M273.7 786.7h0M269.2 787.0h0M264.3 787.5h0M270.0 785.9h0M259.0 786.3h0M274.0 786.3h0M271.6 789.0h0M265.9 789.4h0M272.1 788.0h0M262.9 787.8h0M264.1 789.0h0M258.3 789.0h0M273.1 789.0h0M266.2 791.0h0M270.6 792.4h0M270.5 790.7h0M267.8 792.3h0M265.0 792.7h0M258.0 791.6h0M272.2 791.6h0M270.6 793.3h0M267.8 794.8h0M266.3 793.7h0M257.5 794.5h0M269.7 793.7h0M256.8 794.3h0M271.6 794.3h0M271.6 797.7h0M261.8 797.4h0M257.1 797.8h0M261.2 795.6h0M266.1 796.0h0M256.1 796.9h0M271.2 796.9h0M268.4 798.3h0M268.8 798.5h0M259.1 799.9h0M261.0 799.1h0M264.6 798.8h0M255.9 799.6h0M270.3 799.6h0M263.6 801.0h0M267.5 801.0h0M263.1 802.0h0M256.1 802.6h0M266.6 802.4h0M255.9 802.2h0M270.6 802.2h0M268.4 806.2h0M267.4 806.1h0M259.9 806.1h0M255.8 804.8h0M256.8 804.7h0M255.8 804.9h0M269.9 804.9h0M257.2 807.3h0M258.7 806.7h0M265.8 807.6h0M261.1 806.7h0M265.3 806.7h0M255.1 807.5h0M268.5 807.5h0M265.5 811.3h0M268.1 810.7h0M265.0 809.0h0M257.0 808.9h0M267.3 810.7h0M254.2 810.2h0M269.1 810.2h0M263.2 814.1h0M258.1 811.6h0M256.1 812.4h0M267.3 813.6h0M260.4 811.8h0M253.6 812.8h0M268.2 812.8h0M268.2 816.6h0M265.2 815.4h0M265.6 814.5h0M254.7 815.6h0M260.8 814.7h0M253.0 815.5h0M267.3 815.5h0" stroke="#00ffff" stroke-width="6.6" stroke-linecap="round" fill="none"/>
<polyline points="450.0,80.3 448.6,106.8 446.3,133.3 433.8,159.8 418.4,186.3 402.4,212.8 389.3,239.3 379.2,265.8 371.7,292.3 364.2,318.8 358.2,345.3 351.6,371.8 344.5,398.3 339.6,424.8 332.5,451.3 325.7,477.8 319.5,504.3 314.3,530.9 309.2,557.3 303.4,583.8 297.4,610.3 292.5,636.8 288.2,663.3 283.5,689.8 279.7,716.3 275.4,742.8 271.1,769.3 267.0,795.8 263.2,822.3" fill="none" stroke="#0000ff" stroke-width="2.6" stroke-linejoin="round"/>
<path d="M450.0 80.3h0M448.6 106.8h0M446.3 133.3h0M433.8 159.8h0M418.4 186.3h0M402.4 212.8h0M389.3 239.3h0M379.2 265.8h0M371.7 292.3h0M364.2 318.8h0M358.2 345.3h0M351.6 371.8h0M344.5 398.3h0M339.6 424.8h0M332.5 451.3h0M325.7 477.8h0M319.5 504.3h0M314.3 530.9h0M309.2 557.3h0M303.4 583.8h0M297.4 610.3h0M292.5 636.8h0M288.2 663.3h0M283.5 689.8h0M279.7 716.3h0M275.4 742.8h0M271.1 769.3h0M267.0 795.8h0M263.2 822.3h0" stroke="#0000ff" stroke-width="11.5" stroke-linecap="round" fill="none"/>
<polyline points="481.8,19.4 481.8,30.0 481.8,40.6 481.8,51.2 481.8,61.8 481.8,72.4 481.8,83.0 481.8,98.9 481.6,125.4 481.6,151.9 480.5,178.4 479.4,204.9 477.7,231.4 473.0,257.9 468.3,284.4 459.5,337.4 454.2,390.4 447.8,443.4 438.0,496.4 424.4,549.4 376.6,681.9 328.7,814.4" fill="none" stroke="#ff0000" stroke-width="7.8" stroke-linejoin="round"/>
<path d="M481.8 19.4h0M481.8 30.0h0M481.8 40.6h0M481.8 51.2h0M481.8 61.8h0M481.8 72.4h0M481.8 83.0h0M481.8 98.9h0M481.6 125.4h0M481.6 151.9h0M480.5 178.4h0M479.4 204.9h0M477.7 231.4h0M473.0 257.9h0M468.3 284.4h0M459.5 337.4h0M454.2 390.4h0M447.8 443.4h0M438.0 496.4h0M424.4 549.4h0M376.6 681.9h0M328.7 814.4h0" stroke="#ff0000" stroke-width="11.5" stroke-linecap="round" fill="none"/>
<polyline points="458.7,19.4 458.7,30.0 458.7,40.6 458.7,51.2 458.7,61.8 458.7,72.4 458.7,83.0 458.7,98.9 458.5,125.4 458.9,151.9 456.3,178.4 448.4,204.9 433.4,231.4 416.3,257.9 400.2,284.4 377.1,337.4 360.0,390.4 351.4,443.4 337.4,496.4 325.7,549.4 297.4,681.9 267.5,814.4" fill="none" stroke="#008000" stroke-width="2.6" stroke-linejoin="round"/>
<path d="M458.7 19.4h0M458.7 30.0h0M458.7 40.6h0M458.7 51.2h0M458.7 61.8h0M458.7 72.4h0M458.7 83.0h0M458.7 98.9h0M458.5 125.4h0M458.9 151.9h0M456.3 178.4h0M448.4 204.9h0M433.4 231.4h0M416.3 257.9h0M400.2 284.4h0M377.1 337.4h0M360.0 390.4h0M351.4 443.4h0M337.4 496.4h0M325.7 549.4h0M297.4 681.9h0M267.5 814.4h0" stroke="#008000" stroke-width="11.5" stroke-linecap="round" fill="none"/>
<polyline points="456.7,22.0 456.7,27.6 456.7,33.4 456.7,39.6 456.7,46.3 456.7,53.5 456.7,61.4 456.7,70.1 456.7,79.8 456.7,90.8 456.7,103.2 456.7,117.4 456.7,133.9 456.7,153.0 450.5,175.4 431.3,201.9 413.5,233.2 397.4,270.5 383.5,314.9 371.3,368.2 357.4,432.0 344.5,508.7 329.5,601.0 311.3,712.0 290.9,845.4" fill="none" stroke="#ff00ff" stroke-width="2.6" stroke-linejoin="round"/>
<path d="M456.7 22.0h0M456.7 27.6h0M456.7 33.4h0M456.7 39.6h0M456.7 46.3h0M456.7 53.5h0M456.7 61.4h0M456.7 70.1h0M456.7 79.8h0M456.7 90.8h0M456.7 103.2h0M456.7 117.4h0M456.7 133.9h0M456.7 153.0h0M450.5 175.4h0M431.3 201.9h0M413.5 233.2h0M397.4 270.5h0M383.5 314.9h0M371.3 368.2h0M357.4 432.0h0M344.5 508.7h0M329.5 601.0h0M311.3 712.0h0M290.9 845.4h0" stroke="#ff00ff" stroke-width="11.5" stroke-linecap="round" fill="none"/>
</g>
<rect x="88.5" y="19.4" width="400.9" height="795.0" fill="none" stroke="#000" stroke-width="1.4"/>
<path d="M106.3 814.4v6.1M186.6 814.4v6.1M267.0 814.4v6.1M347.4 814.4v6.1M427.9 814.4v6.1M88.5 19.4h-6.1M88.5 125.4h-6.1M88.5 231.4h-6.1M88.5 337.4h-6.1M88.5 443.4h-6.1M88.5 549.4h-6.1M88.5 655.4h-6.1M88.5 761.4h-6.1" stroke="#000" stroke-width="1.4" fill="none"/>
<text x="106.5" y="841.6" font-size="17.36" letter-spacing="-0.35" text-anchor="middle">5</text>
<text x="186.8" y="841.6" font-size="17.36" letter-spacing="-0.35" text-anchor="middle">10</text>
<text x="267.2" y="841.6" font-size="17.36" letter-spacing="-0.35" text-anchor="middle">15</text>
<text x="347.6" y="841.6" font-size="17.36" letter-spacing="-0.35" text-anchor="middle">20</text>
<text x="428.1" y="841.6" font-size="17.36" letter-spacing="-0.35" text-anchor="middle">25</text>
<text x="75.2" y="26.5" font-size="17.36" letter-spacing="-0.35" text-anchor="end">0</text>
<text x="75.2" y="132.5" font-size="17.36" letter-spacing="-0.35" text-anchor="end">20</text>
<text x="75.2" y="238.5" font-size="17.36" letter-spacing="-0.35" text-anchor="end">40</text>
<text x="75.2" y="344.5" font-size="17.36" letter-spacing="-0.35" text-anchor="end">60</text>
<text x="75.2" y="450.5" font-size="17.36" letter-spacing="-0.35" text-anchor="end">80</text>
<text x="75.2" y="556.5" font-size="17.36" letter-spacing="-0.35" text-anchor="end">100</text>
<text x="75.2" y="662.5" font-size="17.36" letter-spacing="-0.35" text-anchor="end">120</text>
<text x="75.2" y="768.5" font-size="17.36" letter-spacing="-0.35" text-anchor="end">140</text>
<clipPath id="c1"><rect x="580.5" y="19.4" width="401.9" height="795.0"/></clipPath>
<path d="M629.5 814.4V19.4M712.4 814.4V19.4M795.4 814.4V19.4M878.4 814.4V19.4M961.4 814.4V19.4M580.5 19.4H982.4M580.5 125.4H982.4M580.5 231.4H982.4M580.5 337.4H982.4M580.5 443.4H982.4M580.5 549.4H982.4M580.5 655.4H982.4M580.5 761.4H982.4" stroke="#b0b0b0" stroke-width="0.87" stroke-dasharray="3.2 1.4" fill="none"/>
<g clip-path="url(#c1)">

<path d="M820.8 91.8h0M818.6 91.7h0M819.6 93.7h0M812.1 93.9h0M815.4 96.0h0M819.5 98.1h0M812.4 101.0h0M816.8 98.8h0M817.6 103.6h0M816.4 103.0h0M814.2 106.3h0M815.4 104.2h0M813.1 107.1h0M816.1 108.1h0M818.4 110.4h0M812.6 111.2h0M816.2 112.9h0M818.1 113.8h0M819.7 116.4h0M815.9 114.9h0M825.4 116.1h0M807.0 115.2h0M825.1 119.4h0M821.1 119.2h0M805.6 117.4h0M830.0 119.3h0M769.6 117.8h0M824.0 122.3h0M823.0 122.3h0M811.6 120.2h0M804.2 121.8h0M799.1 121.7h0M850.8 120.3h0M806.3 124.6h0M833.5 124.9h0M802.7 124.7h0M825.8 126.7h0M832.8 125.3h0M803.7 126.6h0M780.7 125.2h0M836.6 129.9h0M820.5 128.1h0M828.8 128.3h0M819.2 128.1h0M803.0 132.4h0M827.4 132.7h0M803.3 131.4h0M791.7 130.8h0M802.5 133.4h0M822.9 134.7h0M817.2 134.3h0M813.5 134.7h0M828.3 137.6h0M801.0 137.5h0M828.7 136.9h0M868.1 136.9h0M812.0 139.2h0M803.3 139.6h0M833.8 140.1h0M809.7 141.7h0M814.5 141.1h0M808.1 143.4h0M862.9 143.1h0M803.8 145.9h0M811.3 145.3h0M813.2 145.1h0M855.7 145.4h0M833.5 148.2h0M835.5 146.6h0M807.8 147.1h0M848.0 148.2h0M912.8 148.2h0M827.9 151.0h0M809.3 149.7h0M801.0 150.8h0M774.1 151.5h0M858.1 150.7h0M802.4 151.8h0M800.6 152.6h0M805.4 151.9h0M919.4 152.1h0M811.8 155.4h0M826.8 155.5h0M828.3 154.5h0M836.3 155.2h0M865.3 154.9h0M811.0 157.0h0M807.5 159.3h0M806.3 158.7h0M847.8 157.3h0M903.4 157.9h0M809.0 159.8h0M800.6 161.8h0M805.2 162.1h0M790.3 160.0h0M850.2 160.6h0M909.0 161.7h0M815.6 164.3h0M809.2 162.7h0M809.0 163.3h0M787.4 163.5h0M845.6 164.0h0M904.6 163.4h0M819.2 166.8h0M803.9 165.2h0M820.1 165.3h0M809.7 166.1h0M767.4 165.8h0M868.4 166.4h0M877.6 166.9h0M841.0 169.8h0M804.7 170.0h0M822.3 168.2h0M795.3 168.1h0M852.1 170.0h0M894.9 167.7h0M808.9 171.9h0M815.6 170.5h0M842.6 171.5h0M765.4 171.9h0M846.8 171.4h0M888.3 170.8h0M887.0 171.8h0M835.4 175.3h0M832.6 175.1h0M816.2 175.2h0M808.0 173.4h0M848.8 173.4h0M884.9 173.2h0M876.5 174.8h0M889.8 175.3h0M800.6 178.0h0M810.4 176.7h0M822.9 178.0h0M861.5 176.1h0M876.9 178.1h0M885.5 176.1h0M818.5 179.0h0M830.4 178.2h0M817.0 178.6h0M861.5 178.8h0M858.1 179.6h0M874.7 178.8h0M874.1 180.7h0M875.1 178.5h0M841.0 180.9h0M810.8 181.2h0M827.1 182.0h0M796.1 182.5h0M869.1 181.5h0M883.9 180.9h0M901.1 181.1h0M870.6 181.6h0M923.3 183.1h0M824.9 185.7h0M837.9 185.2h0M824.1 183.7h0M788.0 185.0h0M867.9 186.0h0M872.6 185.8h0M889.4 183.9h0M893.5 184.1h0M878.0 184.4h0M803.5 188.0h0M829.8 187.3h0M832.1 188.2h0M781.6 187.9h0M863.0 186.6h0M896.7 186.7h0M884.6 188.6h0M877.0 187.2h0M811.3 190.7h0M817.4 190.5h0M837.1 189.1h0M772.5 189.4h0M853.5 189.8h0M859.0 188.9h0M902.0 190.3h0M882.1 190.6h0M884.9 189.2h0M886.4 188.8h0M818.2 193.9h0M837.7 193.6h0M831.6 193.1h0M834.7 193.9h0M791.8 192.2h0M866.7 193.0h0M867.2 193.7h0M876.7 191.4h0M888.2 193.3h0M879.3 191.6h0M870.2 191.8h0M811.5 194.7h0M835.5 196.7h0M801.0 194.3h0M846.6 196.6h0M776.7 195.4h0M859.7 195.3h0M871.9 194.3h0M875.5 194.3h0M891.2 195.9h0M878.9 196.1h0M809.5 199.1h0M828.4 196.8h0M807.8 198.5h0M790.1 197.3h0M866.6 196.9h0M876.5 198.6h0M897.3 198.8h0M877.9 196.9h0M892.6 198.2h0M805.5 201.0h0M812.4 200.0h0M821.7 200.7h0M865.5 199.9h0M858.4 201.0h0M890.9 201.7h0M877.0 200.2h0M892.5 200.0h0M843.1 203.9h0M849.9 204.1h0M816.1 202.8h0M863.9 202.2h0M855.0 203.3h0M901.7 204.3h0M885.7 202.5h0M874.1 203.3h0M887.7 202.9h0M805.6 204.8h0M820.4 205.9h0M813.3 206.4h0M776.1 205.9h0M866.5 205.6h0M901.5 207.1h0M891.0 204.9h0M885.5 206.3h0M879.5 204.7h0M825.0 208.9h0M816.1 207.5h0M840.2 209.3h0M823.4 207.5h0M768.3 209.8h0M859.7 209.3h0M857.5 207.6h0M875.6 208.7h0M898.3 207.7h0M875.9 209.3h0M884.5 208.2h0M843.2 210.6h0M855.1 212.3h0M869.5 212.5h0M887.5 211.2h0M898.6 211.9h0M883.4 210.4h0M856.4 213.5h0M845.7 213.3h0M849.9 215.2h0M877.1 213.4h0M863.5 214.6h0M884.9 213.7h0M901.3 214.9h0M894.9 212.6h0M858.1 217.8h0M847.1 217.5h0M856.5 215.9h0M867.5 216.2h0M882.8 215.8h0M903.5 216.3h0M896.4 217.6h0M858.5 220.0h0M859.8 219.8h0M855.3 220.0h0M873.1 218.9h0M876.8 218.2h0M888.6 220.1h0M888.9 220.1h0M901.8 220.2h0M911.4 219.9h0M853.3 220.7h0M857.5 222.0h0M849.5 221.4h0M875.6 222.8h0M888.7 221.2h0M882.6 221.4h0M880.7 222.6h0M902.7 220.7h0M844.6 224.4h0M848.5 225.3h0M859.1 224.0h0M877.9 224.4h0M898.7 224.0h0M902.3 224.7h0M882.7 224.7h0M850.0 226.9h0M857.7 227.6h0M844.7 226.8h0M879.2 227.7h0M903.2 225.9h0M895.0 227.0h0M898.2 227.0h0M907.2 228.0h0M847.5 229.1h0M855.1 230.6h0M844.9 230.8h0M868.7 229.5h0M903.6 229.0h0M887.6 229.4h0M898.5 229.0h0M853.6 231.5h0M859.2 233.8h0M851.5 233.2h0M878.2 232.6h0M875.2 233.4h0M903.3 231.7h0M880.6 232.5h0M902.7 233.5h0M858.7 235.3h0M843.3 235.5h0M856.2 234.9h0M865.2 234.5h0M892.9 235.0h0M882.3 233.8h0M888.6 235.7h0M845.5 237.8h0M843.9 238.0h0M858.1 237.0h0M874.4 238.4h0M897.8 237.2h0M901.0 238.9h0M881.3 238.9h0M841.8 241.2h0M853.7 239.5h0M849.4 240.8h0M866.7 241.1h0M885.0 239.5h0M890.2 240.7h0M887.6 239.5h0M902.8 239.6h0M850.3 242.2h0M849.8 242.9h0M859.5 243.0h0M869.4 242.3h0M883.6 242.2h0M881.8 243.6h0M904.1 242.8h0M847.3 246.2h0M848.0 244.8h0M857.3 245.9h0M877.0 246.3h0M867.1 246.1h0M890.0 245.5h0M887.4 245.9h0M896.4 246.3h0M847.5 249.3h0M855.9 248.6h0M853.6 247.9h0M871.0 248.1h0M882.9 249.4h0M899.8 247.1h0M888.0 248.3h0M857.9 250.6h0M850.7 252.1h0M852.9 250.9h0M867.7 251.3h0M886.4 250.7h0M889.5 250.6h0M902.5 251.1h0M905.3 251.9h0M853.9 252.4h0M844.0 252.5h0M856.1 252.7h0M861.2 253.0h0M874.7 254.2h0M903.2 253.8h0M902.6 252.6h0M902.7 253.5h0M909.5 254.6h0M842.0 257.3h0M855.1 256.6h0M859.5 255.1h0M862.5 255.0h0M874.2 256.7h0M884.0 255.5h0M894.9 256.8h0M903.7 255.9h0M847.9 258.3h0M844.7 260.2h0M859.9 259.5h0M863.6 258.0h0M867.0 259.6h0M892.9 259.4h0M880.8 258.8h0M899.3 259.2h0M852.0 261.2h0M847.9 262.8h0M857.2 262.7h0M862.8 260.7h0M896.8 260.3h0M899.5 262.4h0M892.5 260.3h0M853.4 264.4h0M854.6 264.0h0M859.2 265.5h0M872.3 263.8h0M886.5 265.3h0M899.1 265.0h0M899.8 265.6h0M855.1 266.3h0M852.2 266.0h0M857.1 266.9h0M878.5 265.8h0M878.6 267.6h0M898.3 267.1h0M901.8 267.1h0M890.3 268.1h0M909.8 265.9h0M842.2 270.5h0M848.8 270.2h0M845.0 270.2h0M862.0 269.5h0M885.1 270.0h0M886.7 269.2h0M902.1 270.7h0M851.4 273.0h0M855.1 272.1h0M857.2 271.9h0M869.5 271.2h0M883.5 272.7h0M881.3 273.5h0M892.9 272.8h0M908.4 271.9h0M856.3 273.6h0M849.4 273.8h0M857.0 275.9h0M869.3 274.8h0M874.4 275.5h0M902.2 274.0h0M883.3 275.7h0M882.9 274.0h0M843.1 278.6h0M849.3 278.3h0M844.8 278.6h0M878.1 277.8h0M879.4 278.2h0M892.6 278.5h0M890.5 276.4h0M901.7 278.3h0M844.4 280.1h0M856.4 281.4h0M858.4 279.3h0M871.1 279.9h0M883.2 280.1h0M891.7 279.5h0M888.7 280.3h0M842.9 283.8h0M847.1 284.0h0M859.6 281.9h0M879.3 282.5h0M887.4 281.6h0M884.8 281.8h0M886.7 283.2h0M853.6 285.1h0M859.0 285.8h0M877.3 285.9h0M894.2 284.9h0M902.7 284.8h0M902.8 284.3h0M843.7 288.1h0M841.9 289.0h0M853.2 288.6h0M879.8 288.6h0M880.0 286.9h0M890.0 289.4h0M887.3 288.3h0M858.0 291.0h0M856.4 289.5h0M843.6 289.9h0M862.0 291.9h0M900.5 290.8h0M887.5 292.0h0M889.4 291.3h0M859.6 292.4h0M854.8 292.8h0M842.5 293.1h0M879.1 294.7h0M894.4 293.8h0M883.7 294.0h0M892.8 293.0h0M842.3 295.2h0M842.5 296.3h0M855.9 295.2h0M871.5 296.2h0M892.5 294.8h0M881.3 295.9h0M885.5 296.7h0M844.3 297.6h0M849.2 298.4h0M846.3 299.4h0M873.4 299.6h0M869.1 298.7h0M893.9 297.9h0M881.6 297.6h0M887.6 297.6h0M845.7 301.4h0M858.7 300.7h0M842.5 300.8h0M878.2 301.9h0M883.8 300.2h0M882.8 302.3h0M894.8 300.4h0M849.8 303.6h0M841.4 304.7h0M854.1 304.0h0M873.4 303.8h0M873.2 302.9h0M880.1 303.3h0M889.1 303.2h0M882.0 304.5h0M844.7 307.1h0M843.8 306.4h0M853.5 306.5h0M861.4 306.8h0M879.8 307.8h0M891.4 306.6h0M884.4 307.1h0M891.3 307.5h0M856.1 309.2h0M842.1 309.3h0M873.7 309.8h0M871.6 310.6h0M896.2 310.1h0M882.6 308.8h0M881.2 309.5h0M853.6 311.6h0M854.0 311.4h0M859.5 311.8h0M861.8 312.6h0M877.3 312.3h0M899.7 312.5h0M882.6 311.6h0M895.1 310.6h0M857.4 315.9h0M845.7 315.7h0M855.5 315.6h0M879.4 315.0h0M892.7 313.8h0M891.6 314.6h0M887.6 314.3h0M843.7 316.7h0M849.6 317.3h0M847.8 317.7h0M870.6 316.7h0M875.4 317.8h0M891.6 316.6h0M900.7 317.3h0M888.4 316.7h0M856.2 319.9h0M854.3 319.1h0M848.5 319.5h0M867.2 320.6h0M884.6 319.2h0M897.5 320.3h0M895.1 320.3h0M840.2 322.2h0M839.6 323.8h0M850.0 323.0h0M876.1 321.8h0M882.4 323.3h0M896.4 322.5h0M888.2 322.0h0M857.8 326.1h0M857.2 325.0h0M847.7 324.7h0M863.7 324.3h0M900.4 326.1h0M887.3 326.1h0M899.7 325.0h0M846.7 326.9h0M857.9 327.7h0M847.2 328.1h0M860.4 327.6h0M867.6 326.6h0M896.8 327.4h0M895.0 328.2h0M884.1 326.6h0M845.0 329.7h0M856.9 331.6h0M843.7 330.7h0M866.4 329.3h0M894.1 330.8h0M891.2 329.5h0M884.7 330.0h0M857.9 332.1h0M859.7 332.5h0M856.9 332.5h0M867.5 331.9h0M897.7 332.5h0M896.9 333.1h0M901.5 332.0h0M852.0 336.5h0M856.6 335.9h0M846.9 336.6h0M865.2 336.5h0M868.8 337.1h0M890.0 335.0h0M880.0 334.7h0M882.0 335.5h0M842.4 339.0h0M888.8 337.6h0M870.8 338.4h0M865.6 339.4h0M859.4 339.5h0M893.7 338.8h0M842.1 340.0h0M865.3 340.1h0M876.2 341.2h0M863.7 340.7h0M893.6 340.9h0M866.3 342.9h0M876.3 344.2h0M868.0 343.5h0M859.9 344.5h0M899.7 343.4h0M838.5 345.7h0M876.9 346.9h0M869.8 346.3h0M858.4 345.5h0M897.8 345.8h0M839.7 349.4h0M870.1 348.6h0M871.7 348.1h0M869.1 349.4h0M855.8 348.6h0M895.8 349.4h0M845.0 351.0h0M882.2 351.9h0M879.2 351.3h0M867.6 353.0h0M881.9 352.1h0M896.4 350.5h0M878.1 353.7h0M882.6 353.5h0M881.9 354.4h0M899.8 354.2h0M846.1 357.1h0M857.8 358.1h0M863.0 355.8h0M863.0 355.9h0M852.8 357.3h0M890.4 356.5h0M848.9 360.7h0M887.8 359.5h0M880.4 359.1h0M885.4 360.5h0M877.9 358.9h0M900.0 359.8h0M847.9 361.4h0M867.5 363.1h0M867.2 361.5h0M886.3 361.7h0M878.2 363.2h0M896.9 362.0h0M839.5 366.2h0M869.1 365.0h0M850.5 365.6h0M878.1 366.0h0M863.2 364.2h0M897.2 365.4h0M843.2 366.7h0M867.4 367.6h0M879.5 366.8h0M877.0 367.2h0M888.9 367.0h0M842.5 369.9h0M857.5 370.1h0M849.2 371.1h0M858.9 371.1h0M870.3 370.5h0M889.1 371.0h0M847.2 373.7h0M880.3 372.7h0M874.8 374.1h0M856.2 371.9h0M864.8 372.9h0M890.2 373.9h0M837.8 374.7h0M856.1 375.5h0M869.4 375.4h0M868.1 376.5h0M849.4 376.7h0M887.7 376.3h0M842.6 377.5h0M860.4 378.8h0M857.3 378.4h0M873.5 377.9h0M867.0 377.1h0M895.9 377.3h0M844.9 379.8h0M881.9 379.7h0M857.9 379.8h0M858.1 379.8h0M867.2 380.2h0M892.8 380.5h0M844.6 382.5h0M848.5 383.1h0M852.3 384.0h0M878.3 384.8h0M856.2 382.3h0M892.0 384.7h0M839.1 385.0h0M867.7 386.0h0M864.9 386.9h0M880.0 386.1h0M891.8 387.2h0M843.4 389.0h0M870.0 388.1h0M869.3 389.8h0M850.9 388.5h0M881.8 390.1h0M894.5 389.2h0M840.8 390.5h0M875.1 392.1h0M855.5 391.8h0M873.0 391.9h0M848.4 391.3h0M893.9 391.0h0M843.2 393.5h0M859.2 394.2h0M878.5 393.1h0M875.5 393.0h0M883.4 392.9h0M890.6 393.3h0M840.8 396.5h0M867.3 396.2h0M884.3 396.5h0M863.9 396.0h0M884.4 396.3h0M896.3 396.5h0M837.8 398.4h0M864.2 400.4h0M854.8 399.3h0M876.2 398.8h0M852.8 399.5h0M897.3 400.5h0M841.2 401.8h0M863.8 403.2h0M858.4 402.3h0M873.9 400.9h0M882.1 401.0h0M894.1 400.8h0M835.5 404.6h0M852.4 404.0h0M849.7 403.6h0M854.0 404.8h0M851.8 405.6h0M887.9 404.0h0M834.3 408.0h0M882.3 407.1h0M869.1 408.3h0M850.2 406.2h0M872.8 407.6h0M887.9 407.4h0M839.1 409.4h0M857.5 409.4h0M870.6 408.9h0M876.6 410.0h0M854.9 409.0h0M890.5 410.6h0M838.6 413.7h0M883.1 413.7h0M883.4 413.8h0M855.7 413.5h0M869.1 411.9h0M843.4 415.5h0M878.3 414.4h0M855.6 415.6h0M853.1 415.2h0M872.7 414.2h0M884.8 415.2h0M841.7 416.7h0M881.7 417.7h0M861.6 417.6h0M871.8 418.6h0M870.0 417.7h0M889.7 417.1h0M874.6 421.9h0M862.9 421.5h0M854.4 421.3h0M894.6 421.5h0M836.0 424.0h0M856.9 422.9h0M875.1 424.2h0M876.8 423.7h0M851.5 422.3h0M885.2 422.8h0M834.4 426.5h0M876.6 425.5h0M876.6 425.4h0M854.9 425.6h0M845.3 425.7h0M882.4 426.9h0M832.2 429.8h0M854.0 427.3h0M848.3 429.1h0M866.3 428.6h0M853.8 428.0h0M844.2 432.2h0M875.9 429.9h0M870.8 432.0h0M870.2 431.3h0M874.6 430.3h0M884.8 430.9h0M840.5 434.1h0M867.4 434.1h0M878.3 434.7h0M865.1 433.4h0M878.5 433.5h0M885.3 434.4h0M868.3 437.7h0M872.6 436.4h0M860.9 437.2h0M855.6 435.5h0M890.8 435.8h0M842.2 438.2h0M861.7 438.7h0M878.6 440.5h0M860.0 439.9h0M866.9 438.3h0M831.9 441.7h0M861.0 441.6h0M878.4 441.6h0M874.6 442.6h0M864.9 441.1h0M886.2 441.5h0M836.9 444.0h0M879.7 443.7h0M855.3 443.2h0M846.4 443.3h0M858.5 445.4h0M891.6 445.4h0M837.6 445.8h0M852.3 447.4h0M845.1 447.2h0M856.5 447.1h0M857.6 446.1h0M889.2 447.4h0M837.5 450.7h0M870.2 448.6h0M874.6 450.2h0M852.6 450.9h0M890.0 449.1h0M834.6 451.9h0M864.7 452.0h0M862.0 453.5h0M862.9 453.5h0M862.9 453.7h0M884.3 452.5h0M841.5 455.4h0M865.0 455.1h0M867.6 456.2h0M842.4 454.6h0M873.9 453.9h0M878.8 455.5h0M832.3 457.4h0M867.3 457.8h0M863.7 457.2h0M863.0 458.9h0M870.0 458.9h0M884.3 457.4h0M838.9 459.5h0M869.5 461.5h0M842.0 459.8h0M859.2 461.5h0M847.3 461.3h0M884.3 461.5h0M832.9 462.1h0M852.1 463.5h0M862.1 462.0h0M870.1 463.0h0M846.2 463.9h0M880.0 464.2h0M831.5 464.3h0M870.7 464.6h0M868.5 466.4h0M863.7 466.5h0M876.4 465.2h0M888.1 465.2h0M836.9 469.2h0M850.6 467.7h0M860.2 467.3h0M871.6 469.3h0M849.4 468.8h0M878.1 469.0h0M832.3 469.9h0M868.1 470.9h0M869.7 470.1h0M844.4 470.6h0M872.0 470.1h0M885.2 469.9h0M829.6 472.9h0M871.4 473.4h0M856.4 472.4h0M852.5 472.9h0M868.4 474.2h0M882.2 474.1h0M833.0 475.7h0M866.3 475.5h0M851.7 475.7h0M870.7 476.6h0M857.2 475.9h0M860.0 479.9h0M849.1 478.3h0M843.7 478.9h0M867.1 478.0h0M886.7 478.9h0M838.1 482.6h0M844.3 481.9h0M865.8 482.7h0M863.0 481.1h0M857.9 481.0h0M880.2 482.7h0M856.4 485.4h0M844.7 485.3h0M862.0 485.2h0M885.9 483.0h0M837.7 486.5h0M847.1 487.5h0M855.8 486.6h0M846.5 487.7h0M864.8 485.8h0M832.5 489.3h0M870.0 490.7h0M861.2 489.2h0M843.3 488.4h0M857.3 489.7h0M884.9 489.3h0M832.9 491.3h0M859.5 492.3h0M853.9 491.5h0M850.1 492.1h0M884.4 492.3h0M828.7 493.9h0M865.7 495.8h0M847.3 495.6h0M854.2 494.9h0M857.3 493.6h0M880.5 495.3h0M838.3 498.3h0M841.4 497.6h0M861.1 496.7h0M840.6 497.4h0M840.3 498.1h0M875.7 497.3h0M830.0 499.3h0M854.1 500.7h0M850.6 500.9h0M858.8 500.5h0M852.1 500.3h0M883.0 500.6h0M834.9 501.7h0M846.5 503.7h0M839.3 502.6h0M867.6 503.5h0M862.6 502.2h0M879.6 502.2h0M831.7 506.1h0M865.5 506.7h0M851.2 506.7h0M839.1 506.4h0M839.7 505.5h0M879.9 504.9h0M836.1 508.2h0M854.4 506.8h0M863.7 507.3h0M853.9 506.7h0M846.9 508.5h0M878.1 507.9h0M834.1 509.9h0M857.4 511.3h0M844.3 510.2h0M849.0 509.6h0M849.2 511.3h0M872.6 511.3h0M834.3 512.4h0M845.4 513.4h0M846.0 514.4h0M868.2 512.8h0M861.9 513.9h0M873.1 514.6h0M847.4 515.5h0M843.0 515.8h0M866.4 514.7h0M864.3 515.5h0M879.8 515.4h0M825.8 518.3h0M841.8 518.0h0M855.2 518.5h0M846.0 518.7h0M861.7 519.3h0M879.6 519.4h0M829.1 520.9h0M865.0 521.6h0M838.4 522.4h0M865.1 520.1h0M858.8 520.6h0M878.3 520.9h0M830.6 523.1h0M848.9 525.2h0M840.8 524.5h0M835.8 523.4h0M838.4 523.0h0M870.4 524.7h0M829.4 527.6h0M841.1 527.3h0M849.8 527.8h0M845.3 526.3h0M866.5 526.2h0M823.8 529.4h0M837.1 530.2h0M859.7 529.9h0M853.8 528.2h0M829.8 532.5h0M856.1 531.7h0M858.4 530.7h0M864.8 531.6h0M860.3 531.8h0M870.6 532.0h0M825.7 533.4h0M855.4 534.4h0M865.7 535.7h0M865.1 533.5h0M856.3 535.2h0M866.8 535.7h0M826.2 538.0h0M832.0 538.3h0M840.5 536.0h0M835.8 538.5h0M857.0 536.4h0M876.7 537.6h0M820.0 539.6h0M830.4 539.6h0M832.3 541.2h0M834.0 541.1h0M874.4 538.6h0M823.6 542.5h0M847.9 543.3h0M834.3 543.5h0M844.6 541.9h0M838.2 542.4h0M872.1 543.5h0M823.1 546.5h0M829.6 544.7h0M840.2 544.2h0M844.0 543.9h0M862.0 545.1h0M873.2 545.8h0M819.9 548.4h0M848.3 548.1h0M856.3 546.9h0M840.7 548.7h0M857.3 549.1h0M866.9 546.8h0M824.5 550.9h0M846.2 550.6h0M860.9 550.9h0M851.3 550.7h0M845.4 551.1h0M865.3 550.3h0M819.9 553.3h0M840.9 552.9h0M840.2 554.4h0M830.0 551.8h0M852.8 552.8h0M870.0 552.8h0M814.2 556.8h0M836.3 555.7h0M837.6 554.6h0M858.1 556.7h0M865.0 556.3h0M818.9 558.1h0M853.8 559.4h0M855.9 557.4h0M846.5 559.7h0M850.8 558.3h0M861.7 559.0h0M822.1 561.5h0M856.2 562.2h0M846.4 560.0h0M845.4 560.9h0M833.3 562.2h0M861.6 560.3h0M818.5 563.2h0M852.6 562.9h0M849.2 563.3h0M857.2 564.9h0M835.3 564.0h0M864.1 564.0h0M815.1 565.1h0M842.7 565.5h0M833.7 566.7h0M854.8 566.4h0M831.9 566.6h0M867.5 565.4h0M815.4 570.1h0M828.8 568.0h0M829.6 568.6h0M836.0 569.7h0M836.3 568.9h0M866.5 570.1h0M820.3 571.0h0M839.8 572.1h0M834.7 571.1h0M826.0 572.7h0M864.7 571.6h0M811.2 573.5h0M844.4 574.4h0M820.5 574.9h0M835.7 573.2h0M829.6 573.5h0M862.0 573.9h0M811.4 576.4h0M847.3 577.7h0M844.1 578.0h0M842.5 575.9h0M821.2 576.1h0M860.8 577.8h0M812.2 578.9h0M845.1 579.2h0M820.5 580.9h0M827.8 580.5h0M861.3 579.2h0M809.9 581.2h0M846.1 583.5h0M840.4 582.7h0M827.9 581.7h0M821.1 583.5h0M859.9 581.9h0M810.8 586.1h0M823.0 585.3h0M840.0 584.9h0M823.5 585.9h0M821.1 584.0h0M857.9 584.8h0M813.4 588.6h0M818.0 588.4h0M817.1 587.1h0M821.4 587.8h0M843.5 586.6h0M860.8 588.1h0M812.1 591.0h0M821.1 590.6h0M826.7 589.2h0M821.4 590.0h0M820.1 589.9h0M856.4 590.0h0M804.5 592.4h0M844.5 594.0h0M841.2 593.0h0M841.9 593.1h0M852.1 591.8h0M806.4 595.3h0M817.6 596.1h0M841.3 596.3h0M844.2 595.0h0M819.1 596.2h0M852.5 595.1h0M811.4 598.1h0M824.9 597.7h0M830.8 598.8h0M843.4 597.8h0M836.9 597.9h0M856.0 598.3h0M804.3 601.8h0M822.9 599.7h0M819.2 602.0h0M813.9 601.6h0M830.5 601.0h0M851.1 601.0h0M811.1 602.4h0M834.7 603.8h0M839.3 604.0h0M843.5 602.3h0M812.3 602.8h0M847.5 603.5h0M802.2 606.2h0M837.0 605.8h0M827.9 605.5h0M844.2 606.9h0M848.9 606.7h0M809.2 608.4h0M834.6 608.6h0M830.5 609.6h0M829.3 610.0h0M811.7 609.8h0M850.7 609.7h0M803.7 612.0h0M823.8 612.7h0M833.1 610.2h0M815.4 610.3h0M830.4 610.9h0M850.0 610.3h0M829.8 613.9h0M821.3 614.3h0M822.6 615.3h0M843.2 614.7h0M845.5 613.1h0M800.9 616.5h0M838.8 617.9h0M818.1 616.0h0M811.5 616.1h0M850.3 616.2h0M805.5 619.6h0M835.1 619.9h0M834.5 619.3h0M826.0 618.8h0M811.8 619.3h0M846.2 620.3h0M808.5 622.8h0M816.1 621.4h0M835.0 623.3h0M813.9 620.7h0M822.0 621.6h0M845.0 622.9h0M808.9 624.2h0M815.8 625.9h0M829.7 625.5h0M812.0 624.8h0M834.5 625.9h0M802.6 628.6h0M841.7 626.7h0M810.5 628.5h0M818.5 627.5h0M821.7 627.5h0M818.0 630.8h0M810.0 629.7h0M841.0 629.3h0M821.7 630.2h0M850.8 630.4h0M808.2 631.5h0M820.8 631.7h0M811.7 633.9h0M835.9 632.5h0M835.7 633.9h0M800.8 635.3h0M833.3 635.7h0M837.1 635.0h0M827.6 636.2h0M851.9 634.0h0M803.9 637.0h0M823.3 637.1h0M822.4 638.2h0M822.9 636.6h0M850.0 636.9h0M806.2 641.5h0M814.2 639.2h0M833.5 640.8h0M820.5 639.3h0M822.8 639.9h0M852.7 639.8h0M804.7 642.2h0M822.7 644.5h0M818.9 642.7h0M823.9 642.3h0M821.5 643.7h0M850.3 642.4h0M803.7 645.7h0M811.3 646.5h0M830.2 645.5h0M812.1 646.2h0M846.4 645.8h0M803.2 648.3h0M823.0 648.6h0M837.4 649.8h0M826.1 648.1h0M815.0 648.9h0M843.6 649.0h0M838.5 651.0h0M829.0 652.1h0M814.1 650.8h0M840.1 650.0h0M845.9 651.8h0M806.3 654.3h0M809.4 652.6h0M821.4 652.6h0M824.5 654.2h0M813.8 654.8h0M850.9 653.4h0M801.5 655.8h0M806.7 655.8h0M817.2 657.5h0M823.2 655.2h0M816.5 656.8h0M840.9 657.2h0M800.7 658.9h0M838.4 660.2h0M836.0 659.7h0M828.9 658.2h0M807.1 660.0h0M845.6 658.6h0M804.3 661.8h0M816.3 661.4h0M807.4 663.0h0M834.6 662.6h0M805.3 661.5h0M845.6 662.6h0M802.3 663.4h0M807.5 665.3h0M831.2 664.5h0M812.1 665.4h0M808.4 663.9h0M847.3 664.2h0M801.7 667.3h0M828.5 668.2h0M834.6 666.0h0M827.8 666.3h0M839.4 668.4h0M797.1 668.7h0M818.8 670.2h0M819.5 670.4h0M813.7 669.5h0M842.1 670.7h0M800.8 673.0h0M815.2 672.5h0M804.8 671.3h0M812.2 671.4h0M803.9 672.9h0M840.1 671.6h0M799.9 675.3h0M819.2 674.7h0M810.0 674.1h0M828.5 675.4h0M830.6 674.1h0M838.0 673.8h0M796.3 677.6h0M818.7 678.0h0M819.0 678.4h0M812.3 676.3h0M791.4 679.3h0M820.3 679.3h0M800.9 680.3h0M800.5 679.7h0M811.9 679.5h0M833.4 679.6h0M793.7 682.6h0M800.2 683.9h0M821.9 682.9h0M799.7 682.3h0M826.8 682.8h0M838.0 684.0h0M794.0 685.8h0M808.5 685.9h0M819.2 686.0h0M817.6 685.3h0M801.0 684.3h0M837.6 686.7h0M796.0 687.4h0M804.3 689.2h0M822.7 689.1h0M809.7 689.4h0M806.0 688.5h0M830.4 687.9h0M795.6 690.1h0M805.9 691.3h0M816.5 691.0h0M822.9 691.6h0M803.9 691.0h0M829.7 690.0h0M790.6 694.6h0M799.6 692.8h0M814.4 693.6h0M797.8 692.5h0M813.6 693.8h0M834.0 692.9h0M791.7 695.8h0M807.9 696.0h0M812.1 697.1h0M825.2 696.9h0M832.6 696.6h0M817.8 698.1h0M812.2 698.7h0M802.4 699.6h0M831.6 698.8h0M792.2 702.1h0M823.9 702.3h0M802.6 702.0h0M809.3 702.7h0M827.3 700.3h0M789.9 703.7h0M808.2 703.0h0M799.3 704.0h0M804.3 704.2h0M809.6 703.9h0M823.2 704.3h0M803.7 706.3h0M814.9 706.8h0M816.4 705.5h0M797.5 706.0h0M826.0 706.5h0M809.4 710.7h0M811.3 709.7h0M816.6 709.0h0M794.0 710.7h0M827.1 708.3h0M786.2 712.5h0M818.7 711.8h0M800.2 713.2h0M798.6 711.5h0M806.2 713.4h0M823.1 712.9h0M785.8 715.5h0M814.5 713.7h0M817.3 714.4h0M815.1 714.7h0M817.4 714.7h0M822.0 714.8h0M782.5 718.4h0M816.0 716.5h0M804.8 717.3h0M793.9 716.8h0M817.8 718.0h0M826.0 718.4h0M791.4 721.0h0M794.8 719.4h0M794.0 720.1h0M807.2 720.0h0M821.0 720.6h0M782.3 723.6h0M816.8 724.0h0M791.2 722.4h0M802.6 722.1h0M828.1 721.8h0M788.1 726.4h0M791.6 725.2h0M804.0 726.1h0M794.0 724.8h0M818.1 724.1h0M819.5 726.0h0M786.9 727.3h0M794.6 726.8h0M790.3 726.9h0M799.5 729.3h0M798.5 728.6h0M823.3 728.1h0M782.6 730.5h0M812.4 731.2h0M790.6 729.6h0M788.5 730.0h0M806.4 731.9h0M777.1 734.1h0M800.8 734.6h0M804.7 732.3h0M792.8 732.3h0M805.0 733.6h0M817.2 732.0h0M793.6 736.9h0M788.9 736.7h0M813.4 736.1h0M804.4 734.7h0M823.0 736.7h0M775.3 737.9h0M787.1 737.6h0M792.5 739.4h0M801.8 738.2h0M815.0 738.8h0M822.1 739.6h0M777.9 741.5h0M804.2 740.4h0M802.4 740.8h0M798.9 741.8h0M821.0 740.8h0M781.2 743.8h0M792.4 743.3h0M799.4 744.0h0M790.3 744.6h0M799.1 743.5h0M824.1 745.0h0M784.6 746.9h0M783.1 747.5h0M804.3 746.1h0M796.6 747.0h0M818.6 747.3h0M777.1 748.2h0M789.9 748.0h0M802.4 749.4h0M811.7 749.4h0M811.5 749.1h0M817.2 749.1h0M780.9 751.5h0M787.3 752.2h0M797.6 751.8h0M811.3 752.6h0M814.0 752.4h0M776.2 754.5h0M795.0 755.4h0M800.0 753.3h0M784.2 755.6h0M798.1 753.6h0M823.4 755.5h0M777.1 756.1h0M806.4 756.7h0M784.1 758.1h0M802.8 755.9h0M781.4 757.3h0M777.1 758.8h0M784.7 759.4h0M783.6 759.7h0M780.1 760.2h0M800.3 760.9h0M813.1 760.8h0M777.3 762.4h0M801.6 761.6h0M811.0 762.6h0M808.3 762.4h0M789.0 762.9h0M816.7 761.9h0M774.8 764.4h0M793.8 765.5h0M780.1 764.5h0M809.7 764.5h0M803.2 764.6h0M816.0 766.1h0M767.7 768.3h0M793.2 768.2h0M794.5 766.9h0M800.0 766.8h0M787.7 768.7h0M815.2 768.3h0M771.4 770.5h0M788.7 769.2h0M808.7 771.5h0M798.1 769.5h0M804.4 769.8h0M815.6 770.7h0M770.2 773.9h0M800.6 774.0h0M785.4 772.8h0M788.6 771.9h0M804.2 773.6h0M813.5 774.1h0M771.2 776.2h0M792.2 775.1h0M784.1 776.2h0M787.6 776.9h0M804.2 777.0h0M812.1 774.7h0M768.6 778.4h0M799.3 778.0h0M785.4 779.5h0M779.0 779.3h0M806.8 779.6h0M771.7 780.8h0M792.1 782.0h0M802.3 780.6h0M777.6 781.7h0M795.4 781.4h0M806.0 782.1h0M772.5 784.9h0M794.5 782.5h0M792.5 784.3h0M781.5 784.3h0M803.5 784.5h0M812.9 784.2h0M775.6 787.1h0M794.7 785.5h0M786.0 785.8h0M799.7 787.1h0M784.8 787.6h0M804.0 785.9h0M776.6 788.6h0M798.9 789.0h0M793.1 788.8h0M788.8 790.2h0M784.1 789.0h0M803.8 788.0h0M775.3 791.4h0M800.1 790.6h0M798.8 790.4h0M793.0 790.7h0M783.4 791.4h0M805.2 791.4h0M773.1 793.7h0M781.5 793.3h0M790.1 793.9h0M794.3 793.0h0M803.9 795.4h0M772.6 796.4h0M783.7 797.4h0M786.7 797.5h0M783.9 796.8h0M790.2 797.5h0M804.0 795.8h0M770.5 798.7h0M792.5 799.1h0M798.2 798.9h0M782.8 798.7h0M780.5 800.0h0M802.2 800.4h0M772.9 802.5h0M787.2 801.1h0M785.5 803.4h0M785.7 802.6h0M779.2 802.9h0M802.8 801.9h0M771.8 804.1h0M792.6 804.9h0M798.6 806.1h0M796.8 806.0h0M796.0 803.6h0M806.8 805.9h0M774.7 807.3h0M780.6 807.6h0M783.4 806.5h0M796.4 807.7h0M796.5 807.0h0M801.2 808.4h0M775.0 810.3h0M779.2 810.1h0M788.7 811.0h0M781.9 809.3h0M784.0 811.0h0M803.4 808.9h0M775.6 812.8h0M787.5 814.0h0M785.8 813.0h0M786.4 812.8h0M778.5 813.8h0M800.9 812.2h0M777.2 816.4h0M790.1 815.6h0M781.8 814.2h0M792.9 814.6h0M789.3 814.2h0M799.4 815.9h0" stroke="#00ffff" stroke-width="6.6" stroke-linecap="round" fill="none"/>
<polyline points="819.3,80.3 818.2,106.8 815.4,133.3 838.5,159.8 850.8,186.3 864.3,212.8 871.1,239.3 869.6,265.8 870.2,292.3 868.1,318.8 865.3,345.3 865.1,371.8 864.7,398.3 860.6,424.8 858.5,451.3 857.4,477.8 855.3,504.3 848.8,530.9 841.1,557.3 836.4,583.8 830.0,610.3 823.1,636.8 819.0,663.3 812.4,689.8 807.1,716.3 801.1,742.8 796.1,769.3 794.6,795.8 795.7,822.3" fill="none" stroke="#0000ff" stroke-width="2.6" stroke-linejoin="round"/>
<path d="M819.3 80.3h0M818.2 106.8h0M815.4 133.3h0M838.5 159.8h0M850.8 186.3h0M864.3 212.8h0M871.1 239.3h0M869.6 265.8h0M870.2 292.3h0M868.1 318.8h0M865.3 345.3h0M865.1 371.8h0M864.7 398.3h0M860.6 424.8h0M858.5 451.3h0M857.4 477.8h0M855.3 504.3h0M848.8 530.9h0M841.1 557.3h0M836.4 583.8h0M830.0 610.3h0M823.1 636.8h0M819.0 663.3h0M812.4 689.8h0M807.1 716.3h0M801.1 742.8h0M796.1 769.3h0M794.6 795.8h0M795.7 822.3h0" stroke="#0000ff" stroke-width="11.5" stroke-linecap="round" fill="none"/>
<polyline points="805.3,19.4 805.3,30.0 805.3,40.6 805.3,51.2 805.3,61.8 805.3,72.4 805.3,83.0 805.3,98.9 805.3,125.4 806.0,151.9 806.8,178.4 807.5,204.9 808.1,231.4 804.3,257.9 800.6,284.4 792.5,337.4 785.4,390.4 793.1,443.4 808.6,496.4 831.7,549.4 848.8,681.9 828.9,814.4" fill="none" stroke="#ff0000" stroke-width="7.8" stroke-linejoin="round"/>
<path d="M805.3 19.4h0M805.3 30.0h0M805.3 40.6h0M805.3 51.2h0M805.3 61.8h0M805.3 72.4h0M805.3 83.0h0M805.3 98.9h0M805.3 125.4h0M806.0 151.9h0M806.8 178.4h0M807.5 204.9h0M808.1 231.4h0M804.3 257.9h0M800.6 284.4h0M792.5 337.4h0M785.4 390.4h0M793.1 443.4h0M808.6 496.4h0M831.7 549.4h0M848.8 681.9h0M828.9 814.4h0" stroke="#ff0000" stroke-width="11.5" stroke-linecap="round" fill="none"/>
<polyline points="823.1,19.4 823.5,30.0 824.0,40.6 824.4,51.2 824.9,61.8 825.3,72.4 825.5,83.0 825.7,98.9 826.8,125.4 827.4,151.9 828.5,178.4 831.7,204.9 838.5,231.4 845.4,257.9 850.8,284.4 854.2,337.4 853.5,390.4 851.4,443.4 848.6,496.4 843.5,549.4 824.4,681.9 787.6,814.4" fill="none" stroke="#008000" stroke-width="2.6" stroke-linejoin="round"/>
<path d="M823.1 19.4h0M823.5 30.0h0M824.0 40.6h0M824.4 51.2h0M824.9 61.8h0M825.3 72.4h0M825.5 83.0h0M825.7 98.9h0M826.8 125.4h0M827.4 151.9h0M828.5 178.4h0M831.7 204.9h0M838.5 231.4h0M845.4 257.9h0M850.8 284.4h0M854.2 337.4h0M853.5 390.4h0M851.4 443.4h0M848.6 496.4h0M843.5 549.4h0M824.4 681.9h0M787.6 814.4h0" stroke="#008000" stroke-width="11.5" stroke-linecap="round" fill="none"/>
<polyline points="803.2,22.0 803.2,27.6 803.2,33.4 803.2,39.6 803.2,46.3 803.2,53.5 803.2,61.4 803.2,70.1 803.2,79.8 803.2,90.8 803.2,103.2 803.2,117.4 803.2,133.9 803.2,153.0 828.5,175.4 862.7,201.9 879.7,233.2 880.3,270.5 878.2,314.9 875.6,368.2 873.9,432.0 870.7,508.7 865.3,601.0 851.4,712.0 828.4,845.4" fill="none" stroke="#ff00ff" stroke-width="2.6" stroke-linejoin="round"/>
<path d="M803.2 22.0h0M803.2 27.6h0M803.2 33.4h0M803.2 39.6h0M803.2 46.3h0M803.2 53.5h0M803.2 61.4h0M803.2 70.1h0M803.2 79.8h0M803.2 90.8h0M803.2 103.2h0M803.2 117.4h0M803.2 133.9h0M803.2 153.0h0M828.5 175.4h0M862.7 201.9h0M879.7 233.2h0M880.3 270.5h0M878.2 314.9h0M875.6 368.2h0M873.9 432.0h0M870.7 508.7h0M865.3 601.0h0M851.4 712.0h0M828.4 845.4h0" stroke="#ff00ff" stroke-width="11.5" stroke-linecap="round" fill="none"/>
</g>
<rect x="580.5" y="19.4" width="401.9" height="795.0" fill="none" stroke="#000" stroke-width="1.4"/>
<path d="M629.5 814.4v6.1M712.4 814.4v6.1M795.4 814.4v6.1M878.4 814.4v6.1M961.4 814.4v6.1M580.5 19.4h-6.1M580.5 125.4h-6.1M580.5 231.4h-6.1M580.5 337.4h-6.1M580.5 443.4h-6.1M580.5 549.4h-6.1M580.5 655.4h-6.1M580.5 761.4h-6.1" stroke="#000" stroke-width="1.4" fill="none"/>
<text x="629.7" y="841.6" font-size="17.36" letter-spacing="-0.35" text-anchor="middle">35.0</text>
<text x="712.6" y="841.6" font-size="17.36" letter-spacing="-0.35" text-anchor="middle">35.5</text>
<text x="795.6" y="841.6" font-size="17.36" letter-spacing="-0.35" text-anchor="middle">36.0</text>
<text x="878.6" y="841.6" font-size="17.36" letter-spacing="-0.35" text-anchor="middle">36.5</text>
<text x="961.6" y="841.6" font-size="17.36" letter-spacing="-0.35" text-anchor="middle">37.0</text>
<clipPath id="c2"><rect x="1072.7" y="19.4" width="400.9" height="795.0"/></clipPath>
<path d="M1127.2 814.4V19.4M1205.3 814.4V19.4M1283.5 814.4V19.4M1361.6 814.4V19.4M1439.8 814.4V19.4M1072.7 19.4H1473.6M1072.7 125.4H1473.6M1072.7 231.4H1473.6M1072.7 337.4H1473.6M1072.7 443.4H1473.6M1072.7 549.4H1473.6M1072.7 655.4H1473.6M1072.7 761.4H1473.6" stroke="#b0b0b0" stroke-width="0.87" stroke-dasharray="3.2 1.4" fill="none"/>
<g clip-path="url(#c2)">
<polygon points="1124.0,93.6 1124.4,98.9 1124.2,104.2 1124.2,109.5 1124.2,114.8 1124.3,120.1 1124.3,125.4 1122.2,130.7 1121.5,136.0 1122.9,141.3 1126.0,146.6 1129.1,151.9 1132.2,157.2 1135.1,162.5 1137.9,167.8 1140.7,173.1 1143.4,178.4 1146.2,183.7 1149.1,189.0 1152.2,194.3 1155.2,199.6 1158.3,204.9 1161.4,210.2 1164.1,215.5 1166.4,220.8 1168.8,226.1 1165.6,231.4 1169.5,236.7 1173.0,242.0 1176.1,247.3 1179.2,252.6 1182.2,257.9 1184.1,263.2 1185.8,268.5 1187.3,273.8 1188.8,279.1 1190.3,284.4 1191.1,289.7 1191.9,295.0 1192.6,300.3 1193.3,305.6 1194.1,310.9 1194.8,316.2 1195.5,321.5 1196.2,326.8 1196.8,332.1 1197.5,337.4 1198.5,342.7 1199.6,348.0 1200.8,353.3 1202.0,358.6 1203.2,363.9 1204.4,369.2 1205.5,374.5 1206.4,379.8 1207.3,385.1 1208.3,390.4 1209.1,395.7 1209.9,401.0 1210.5,406.3 1211.2,411.6 1211.8,416.9 1212.4,422.2 1213.2,427.5 1214.1,432.8 1214.9,438.1 1215.8,443.4 1217.0,448.7 1218.2,454.0 1219.3,459.3 1220.5,464.6 1221.6,469.9 1222.7,475.2 1223.8,480.5 1224.8,485.8 1225.8,491.1 1226.7,496.4 1227.6,501.7 1228.4,507.0 1229.2,512.3 1229.9,517.6 1230.6,522.9 1231.4,528.2 1232.0,533.5 1232.5,538.8 1233.1,544.1 1233.6,549.4 1234.2,554.7 1235.0,560.0 1236.0,565.3 1237.0,570.6 1237.9,575.9 1238.9,581.2 1239.8,586.5 1240.6,591.8 1241.4,597.1 1242.2,602.4 1243.0,607.7 1243.7,613.0 1244.3,618.3 1245.0,623.6 1245.6,628.9 1246.0,634.2 1246.5,639.5 1247.0,644.8 1247.6,650.1 1248.2,655.4 1248.7,660.7 1249.3,666.0 1249.8,671.3 1250.3,676.6 1250.8,681.9 1251.3,687.2 1251.8,692.5 1252.3,697.8 1252.8,703.1 1253.2,708.4 1253.7,713.7 1254.2,719.0 1254.7,724.3 1255.3,729.6 1255.9,734.9 1256.4,740.2 1257.0,745.5 1257.5,750.8 1258.0,756.1 1258.5,761.4 1259.0,766.7 1259.6,772.0 1260.1,777.3 1260.6,782.6 1261.1,787.9 1261.6,793.2 1262.1,798.5 1262.4,803.8 1262.8,809.1 1263.1,814.4 1263.4,819.7 1266.4,819.7 1266.1,814.4 1265.8,809.1 1265.4,803.8 1265.1,798.5 1264.6,793.2 1264.1,787.9 1263.6,782.6 1263.1,777.3 1262.6,772.0 1262.0,766.7 1261.5,761.4 1261.0,756.1 1260.5,750.8 1260.0,745.5 1259.4,740.2 1258.9,734.9 1258.3,729.6 1257.7,724.3 1257.2,719.0 1256.7,713.7 1256.2,708.4 1255.8,703.1 1255.5,697.8 1255.1,692.5 1254.7,687.2 1254.3,681.9 1253.9,676.6 1253.5,671.3 1253.1,666.0 1252.6,660.7 1252.2,655.4 1252.4,650.1 1252.6,644.8 1252.9,639.5 1253.2,634.2 1253.6,628.9 1252.4,623.6 1251.1,618.3 1249.9,613.0 1248.6,607.7 1247.2,602.4 1246.7,597.1 1246.2,591.8 1245.7,586.5 1245.1,581.2 1244.4,575.9 1243.8,570.6 1243.1,565.3 1242.4,560.0 1241.9,554.7 1241.6,549.4 1241.2,544.1 1240.7,538.8 1240.3,533.5 1239.8,528.2 1239.1,522.9 1238.5,517.6 1237.9,512.3 1237.2,507.0 1236.5,501.7 1235.7,496.4 1235.0,491.1 1234.2,485.8 1233.4,480.5 1232.5,475.2 1231.6,469.9 1230.7,464.6 1229.7,459.3 1228.8,454.0 1227.8,448.7 1226.8,443.4 1225.8,438.1 1224.9,432.8 1223.9,427.5 1223.0,422.2 1222.3,416.9 1221.6,411.6 1220.8,406.3 1220.1,401.0 1219.2,395.7 1218.3,390.4 1217.4,385.1 1216.6,379.8 1215.8,374.5 1214.8,369.2 1213.7,363.9 1212.6,358.6 1211.5,353.3 1210.4,348.0 1209.4,342.7 1208.5,337.4 1208.0,332.1 1207.6,326.8 1207.1,321.5 1206.6,316.2 1206.1,310.9 1205.5,305.6 1205.0,300.3 1204.5,295.0 1203.9,289.7 1203.3,284.4 1202.4,279.1 1201.5,273.8 1200.6,268.5 1199.5,263.2 1198.2,257.9 1197.0,252.6 1195.7,247.3 1194.4,242.0 1192.7,236.7 1190.6,231.4 1182.8,226.1 1180.4,220.8 1178.1,215.5 1175.4,210.2 1172.3,204.9 1169.2,199.6 1166.2,194.3 1163.1,189.0 1160.2,183.7 1157.4,178.4 1154.7,173.1 1151.9,167.8 1149.1,162.5 1146.2,157.2 1143.1,151.9 1140.0,146.6 1136.9,141.3 1133.8,136.0 1136.4,130.7 1129.3,125.4 1128.5,120.1 1127.8,114.8 1127.0,109.5 1126.2,104.2 1124.8,98.9 1124.0,93.6" fill="#00ffff"/>
<path d="M1124.0 93.3h0M1124.0 92.1h0M1122.9 93.2h0M1124.2 92.0h0M1123.4 92.0h0M1124.0 93.9h0M1123.8 93.5h0M1124.3 93.9h0M1123.1 94.7h0M1124.4 94.7h0M1125.1 98.5h0M1123.7 97.8h0M1124.0 98.4h0M1123.9 97.3h0M1125.7 97.3h0M1126.4 101.2h0M1126.5 99.5h0M1126.0 100.4h0M1123.8 100.0h0M1126.2 100.0h0M1126.5 103.0h0M1125.2 103.6h0M1122.7 101.3h0M1122.7 102.6h0M1127.3 102.6h0M1127.4 104.5h0M1123.2 105.9h0M1126.2 105.0h0M1123.3 105.3h0M1127.3 105.3h0M1125.7 107.8h0M1124.9 108.4h0M1123.1 108.4h0M1123.6 107.9h0M1127.9 107.9h0M1123.1 109.5h0M1125.9 111.6h0M1128.0 109.7h0M1123.7 110.6h0M1127.5 110.6h0M1123.8 112.8h0M1126.0 113.8h0M1125.5 112.7h0M1123.1 113.2h0M1128.9 113.2h0M1126.0 116.4h0M1125.1 116.3h0M1126.0 114.6h0M1123.0 115.9h0M1128.2 115.9h0M1124.1 117.4h0M1124.1 117.6h0M1128.9 118.6h0M1123.0 118.5h0M1129.7 118.5h0M1125.0 122.2h0M1126.1 120.5h0M1127.3 120.1h0M1123.6 121.2h0M1129.6 121.2h0M1125.2 124.5h0M1127.7 124.9h0M1127.6 123.0h0M1123.7 123.8h0M1130.7 123.8h0M1126.5 125.9h0M1127.0 127.4h0M1128.0 127.1h0M1122.6 126.5h0M1131.9 126.5h0M1128.2 129.2h0M1131.1 128.2h0M1133.6 128.2h0M1125.8 130.0h0M1135.8 128.8h0M1121.2 129.1h0M1135.7 129.1h0M1120.8 132.5h0M1123.3 132.4h0M1120.3 130.8h0M1127.1 130.7h0M1129.3 131.4h0M1120.9 131.8h0M1138.3 131.8h0M1123.8 135.5h0M1141.1 134.6h0M1132.3 133.5h0M1127.4 133.7h0M1124.3 134.7h0M1120.8 134.4h0M1142.4 134.4h0M1122.5 138.0h0M1134.5 137.4h0M1126.8 137.6h0M1131.6 137.6h0M1136.7 136.1h0M1121.1 137.1h0M1147.7 137.1h0M1138.1 139.3h0M1136.4 140.4h0M1122.8 139.1h0M1138.2 138.9h0M1121.8 139.7h0M1151.4 139.7h0M1144.7 142.5h0M1121.5 142.7h0M1125.1 142.3h0M1142.5 143.4h0M1154.5 142.4h0M1153.2 145.6h0M1153.5 143.9h0M1151.1 145.8h0M1145.1 146.1h0M1160.0 148.3h0M1146.7 147.7h0M1142.2 147.0h0M1155.5 148.2h0M1147.0 149.0h0M1141.7 149.5h0M1143.5 149.7h0M1155.4 151.1h0M1135.2 152.6h0M1143.5 153.1h0M1151.0 151.6h0M1137.9 153.8h0M1125.7 153.0h0M1133.5 155.1h0M1147.3 156.5h0M1159.4 156.1h0M1142.2 155.1h0M1133.6 158.2h0M1126.8 158.1h0M1131.9 157.3h0M1159.2 157.8h0M1152.6 162.2h0M1138.5 160.4h0M1147.5 161.3h0M1166.7 160.1h0M1150.8 162.5h0M1155.1 164.3h0M1156.0 163.5h0M1139.9 163.3h0M1155.8 165.6h0M1143.7 165.2h0M1168.1 165.2h0M1145.1 167.2h0M1146.1 168.2h0M1152.8 168.2h0M1151.5 167.9h0M1136.8 167.8h0M1129.4 168.9h0M1169.7 172.3h0M1169.7 171.0h0M1166.4 170.3h0M1174.1 172.6h0M1176.7 171.5h0M1159.2 174.6h0M1160.3 174.1h0M1141.9 174.5h0M1163.5 173.0h0M1156.6 176.8h0M1167.2 176.2h0M1156.2 175.5h0M1156.9 177.4h0M1134.7 176.8h0M1158.8 179.5h0M1165.1 179.5h0M1169.2 178.5h0M1149.0 179.1h0M1177.0 179.5h0M1165.6 182.6h0M1174.9 182.5h0M1176.8 183.1h0M1168.8 181.2h0M1178.6 182.1h0M1157.6 185.8h0M1176.1 183.9h0M1155.7 184.0h0M1154.7 184.7h0M1139.6 184.8h0M1179.2 184.8h0M1165.3 186.1h0M1173.6 188.4h0M1154.1 187.9h0M1146.0 187.8h0M1179.6 187.4h0M1158.2 189.1h0M1163.2 191.3h0M1170.8 190.7h0M1150.6 188.8h0M1180.3 190.1h0M1150.0 193.5h0M1154.2 191.8h0M1150.3 193.5h0M1147.2 192.8h0M1181.0 192.7h0M1148.8 195.4h0M1171.1 194.8h0M1152.9 195.9h0M1150.8 194.1h0M1180.5 195.4h0M1172.2 197.2h0M1148.3 198.5h0M1147.1 199.1h0M1159.6 198.4h0M1166.1 200.6h0M1149.6 200.4h0M1161.7 199.9h0M1159.1 201.7h0M1154.3 204.0h0M1174.3 202.4h0M1181.9 203.7h0M1163.3 203.5h0M1151.5 203.3h0M1176.1 206.6h0M1156.0 206.2h0M1169.6 204.9h0M1174.5 206.4h0M1152.5 206.0h0M1173.6 207.5h0M1176.3 208.9h0M1169.6 208.4h0M1174.5 207.5h0M1158.5 212.4h0M1167.2 210.3h0M1163.3 211.8h0M1184.2 212.5h0M1155.8 211.3h0M1185.6 211.3h0M1157.1 214.7h0M1160.8 214.0h0M1172.0 212.9h0M1175.5 212.8h0M1185.7 213.9h0M1159.3 215.4h0M1174.2 217.3h0M1160.8 216.2h0M1187.3 216.8h0M1158.0 216.6h0M1170.0 218.1h0M1171.2 218.9h0M1173.8 220.0h0M1179.1 219.8h0M1159.4 219.2h0M1188.5 219.2h0M1164.9 221.5h0M1181.7 220.6h0M1185.8 220.8h0M1188.0 223.0h0M1178.0 222.8h0M1160.3 221.9h0M1189.5 221.9h0M1183.8 224.9h0M1183.7 223.6h0M1163.3 224.6h0M1178.7 225.0h0M1166.1 224.7h0M1161.2 224.5h0M1188.8 224.5h0M1181.6 227.0h0M1174.2 227.1h0M1165.6 226.0h0M1170.1 226.3h0M1188.1 226.8h0M1162.9 227.2h0M1189.7 227.2h0M1183.6 229.7h0M1170.2 230.0h0M1172.1 230.7h0M1164.4 230.2h0M1172.9 229.6h0M1164.7 229.8h0M1191.3 229.8h0M1191.5 233.7h0M1179.4 232.6h0M1170.2 233.2h0M1178.3 233.2h0M1190.5 232.8h0M1165.5 232.5h0M1192.0 232.5h0M1168.3 234.3h0M1193.3 234.8h0M1170.3 234.9h0M1168.3 235.4h0M1172.8 234.4h0M1168.0 235.1h0M1192.7 235.1h0M1183.9 237.7h0M1179.7 236.5h0M1177.8 237.8h0M1177.4 239.1h0M1177.5 238.7h0M1169.8 237.8h0M1194.1 237.8h0M1191.8 239.4h0M1176.1 239.1h0M1182.9 240.3h0M1194.6 241.6h0M1180.7 240.4h0M1171.5 240.4h0M1195.5 240.4h0M1193.4 241.8h0M1176.6 243.0h0M1196.3 242.1h0M1178.5 243.8h0M1180.2 244.2h0M1172.3 243.1h0M1195.1 243.1h0M1175.9 246.2h0M1194.3 247.0h0M1192.4 244.5h0M1184.8 245.0h0M1176.3 245.0h0M1174.3 245.7h0M1196.6 245.7h0M1176.5 249.5h0M1192.1 248.3h0M1196.8 249.6h0M1179.7 247.7h0M1179.3 248.7h0M1175.8 248.4h0M1196.8 248.4h0M1183.4 251.5h0M1197.2 249.8h0M1187.1 250.1h0M1192.8 250.8h0M1194.8 251.5h0M1177.4 251.0h0M1196.8 251.0h0M1194.8 253.2h0M1180.2 254.8h0M1179.4 254.8h0M1197.5 254.1h0M1197.8 253.9h0M1179.0 253.7h0M1198.8 253.7h0M1194.4 256.2h0M1182.1 256.5h0M1184.9 255.7h0M1197.1 256.6h0M1194.5 257.1h0M1180.3 256.3h0M1199.0 256.3h0M1195.9 260.0h0M1186.6 259.5h0M1185.0 257.7h0M1194.1 259.7h0M1187.2 260.3h0M1181.4 259.0h0M1198.9 259.0h0M1184.5 262.7h0M1190.1 261.0h0M1189.0 261.7h0M1191.8 261.1h0M1183.0 262.0h0M1182.9 261.6h0M1199.5 261.6h0M1183.1 263.3h0M1183.1 264.4h0M1192.5 263.5h0M1192.6 262.9h0M1183.4 265.5h0M1182.8 264.3h0M1200.7 264.3h0M1193.5 267.8h0M1195.4 268.1h0M1196.1 268.0h0M1185.7 267.8h0M1189.5 268.0h0M1185.1 266.9h0M1201.4 266.9h0M1193.8 270.3h0M1185.4 269.7h0M1194.6 270.1h0M1190.5 269.8h0M1197.7 269.2h0M1185.7 269.6h0M1201.7 269.6h0M1193.7 273.1h0M1189.9 271.6h0M1192.1 272.6h0M1187.9 273.5h0M1194.1 272.8h0M1185.2 272.2h0M1202.0 272.2h0M1187.5 276.1h0M1196.1 274.8h0M1186.4 274.2h0M1191.8 275.3h0M1188.9 274.8h0M1186.7 274.9h0M1202.6 274.9h0M1199.5 277.8h0M1188.1 277.9h0M1195.0 278.2h0M1202.7 277.1h0M1201.2 276.8h0M1186.7 277.5h0M1203.2 277.5h0M1195.1 280.2h0M1193.7 279.4h0M1199.1 280.5h0M1188.3 279.6h0M1203.1 279.6h0M1188.3 280.2h0M1202.9 280.2h0M1204.5 281.8h0M1191.9 281.9h0M1195.5 282.2h0M1199.3 283.8h0M1189.3 281.6h0M1188.6 282.8h0M1204.1 282.8h0M1194.7 286.1h0M1204.6 286.7h0M1195.7 285.8h0M1190.9 285.8h0M1203.2 286.5h0M1189.0 285.5h0M1204.1 285.5h0M1201.6 287.0h0M1199.3 286.8h0M1201.2 288.9h0M1194.4 286.8h0M1201.1 289.4h0M1189.7 288.1h0M1204.2 288.1h0M1205.3 290.4h0M1193.2 292.1h0M1196.5 290.6h0M1194.6 291.4h0M1205.5 290.7h0M1190.2 290.8h0M1204.6 290.8h0M1205.6 294.1h0M1201.3 294.3h0M1204.8 294.6h0M1198.5 293.1h0M1190.1 293.5h0M1190.0 293.4h0M1205.6 293.4h0M1205.2 294.8h0M1196.1 296.8h0M1201.1 296.5h0M1198.1 295.0h0M1203.6 296.8h0M1191.2 296.1h0M1205.6 296.1h0M1198.3 298.7h0M1202.4 299.3h0M1196.0 299.4h0M1196.7 299.2h0M1196.7 299.8h0M1191.9 298.7h0M1206.0 298.7h0M1197.9 301.6h0M1191.6 301.5h0M1205.7 300.2h0M1205.1 301.6h0M1206.8 302.0h0M1192.2 301.4h0M1206.7 301.4h0M1204.8 305.0h0M1202.7 303.3h0M1199.3 304.0h0M1197.1 304.0h0M1198.6 305.3h0M1192.9 304.0h0M1206.8 304.0h0M1203.8 306.3h0M1201.1 306.8h0M1203.3 306.1h0M1202.3 306.3h0M1204.0 306.6h0M1193.3 306.7h0M1207.3 306.7h0M1206.0 309.4h0M1202.1 310.2h0M1205.9 309.0h0M1207.4 309.0h0M1203.4 310.2h0M1192.8 309.3h0M1207.1 309.3h0M1198.8 312.9h0M1193.4 313.3h0M1204.7 312.1h0M1202.4 311.4h0M1204.3 313.0h0M1193.3 312.0h0M1207.5 312.0h0M1205.9 315.0h0M1199.7 315.0h0M1195.7 313.3h0M1198.3 314.8h0M1195.7 314.7h0M1193.3 314.6h0M1207.6 314.6h0M1204.5 317.9h0M1198.9 316.0h0M1206.0 317.4h0M1202.0 317.8h0M1201.6 318.3h0M1194.7 317.3h0M1207.8 317.3h0M1207.2 321.0h0M1202.6 318.6h0M1203.0 319.7h0M1202.2 320.8h0M1195.6 320.8h0M1194.0 319.9h0M1208.5 319.9h0M1197.9 322.6h0M1208.0 321.7h0M1198.2 322.2h0M1203.5 322.2h0M1203.9 321.6h0M1194.8 322.6h0M1208.7 322.6h0M1195.0 325.7h0M1195.2 326.3h0M1204.5 324.3h0M1200.4 324.0h0M1195.6 324.8h0M1195.6 325.2h0M1208.2 325.2h0M1203.2 327.9h0M1204.3 327.9h0M1200.5 328.8h0M1199.0 327.6h0M1204.6 329.1h0M1195.3 327.9h0M1209.1 327.9h0M1200.1 331.3h0M1197.7 330.5h0M1199.1 330.7h0M1206.3 329.5h0M1202.1 329.7h0M1196.0 330.5h0M1209.3 330.5h0M1199.7 332.7h0M1208.3 334.2h0M1206.8 332.9h0M1201.9 332.4h0M1202.0 334.4h0M1195.9 333.2h0M1208.6 333.2h0M1200.0 335.8h0M1196.4 336.3h0M1203.1 336.6h0M1206.1 336.5h0M1199.4 335.1h0M1195.7 335.8h0M1209.0 335.8h0M1203.1 338.1h0M1197.1 338.6h0M1207.1 337.4h0M1197.5 339.0h0M1202.8 339.2h0M1197.5 338.5h0M1209.9 338.5h0M1204.2 341.3h0M1203.0 342.0h0M1206.6 342.0h0M1200.1 341.1h0M1204.3 341.3h0M1197.7 341.1h0M1210.6 341.1h0M1209.2 343.9h0M1207.6 344.4h0M1205.9 344.9h0M1197.8 343.3h0M1199.3 344.1h0M1197.0 343.8h0M1211.0 343.8h0M1205.2 346.3h0M1204.2 345.1h0M1205.1 345.8h0M1198.8 345.2h0M1199.7 346.1h0M1198.2 346.4h0M1210.7 346.4h0M1210.6 348.6h0M1199.2 350.3h0M1199.3 349.5h0M1208.9 349.0h0M1210.8 348.1h0M1199.5 349.1h0M1211.0 349.1h0M1204.9 351.7h0M1210.7 351.4h0M1202.3 350.5h0M1201.6 350.8h0M1211.9 351.2h0M1200.2 351.7h0M1212.2 351.7h0M1200.8 354.0h0M1203.4 355.5h0M1205.3 355.6h0M1203.1 353.2h0M1212.0 353.2h0M1200.2 354.4h0M1212.2 354.4h0M1206.0 358.3h0M1207.8 358.2h0M1213.0 356.7h0M1209.6 357.6h0M1209.1 355.7h0M1201.1 357.0h0M1213.8 357.0h0M1201.5 359.8h0M1202.0 360.6h0M1206.3 361.0h0M1210.8 359.5h0M1203.1 359.5h0M1201.8 359.7h0M1214.0 359.7h0M1201.5 362.7h0M1210.7 362.7h0M1212.3 363.1h0M1209.9 363.2h0M1202.9 363.5h0M1201.3 362.3h0M1214.1 362.3h0M1206.0 366.1h0M1205.6 364.9h0M1208.7 366.1h0M1206.0 366.0h0M1211.8 365.1h0M1203.1 365.0h0M1214.8 365.0h0M1202.9 366.9h0M1211.3 366.6h0M1211.2 367.2h0M1207.7 368.5h0M1214.0 368.3h0M1203.1 367.6h0M1214.8 367.6h0M1211.3 369.1h0M1215.4 369.1h0M1204.6 370.7h0M1205.6 370.9h0M1212.4 369.4h0M1204.4 370.3h0M1215.2 370.3h0M1214.5 372.8h0M1214.8 374.1h0M1213.0 371.8h0M1208.6 373.5h0M1208.5 372.0h0M1203.7 372.9h0M1217.1 372.9h0M1213.9 374.8h0M1216.8 374.5h0M1212.6 375.9h0M1206.7 375.9h0M1211.5 375.9h0M1204.7 375.6h0M1216.7 375.6h0M1207.7 377.8h0M1216.4 377.0h0M1210.9 378.2h0M1210.3 376.9h0M1205.9 379.1h0M1204.9 378.2h0M1218.0 378.2h0M1206.0 381.7h0M1215.2 380.1h0M1209.2 379.7h0M1209.2 380.9h0M1215.1 380.9h0M1206.4 380.9h0M1218.4 380.9h0M1207.2 384.0h0M1207.1 384.6h0M1206.1 382.3h0M1218.8 383.3h0M1212.9 383.8h0M1205.9 383.5h0M1217.8 383.5h0M1216.4 386.7h0M1208.3 386.1h0M1218.2 385.3h0M1210.5 386.5h0M1219.3 384.9h0M1206.5 386.2h0M1218.1 386.2h0M1207.6 389.1h0M1210.6 389.5h0M1215.9 388.6h0M1208.3 389.5h0M1215.7 389.0h0M1207.7 388.8h0M1218.7 388.8h0M1217.6 390.8h0M1218.9 391.0h0M1219.6 391.7h0M1219.8 392.5h0M1217.3 391.1h0M1207.6 391.5h0M1219.6 391.5h0M1219.3 393.4h0M1214.2 393.2h0M1209.5 393.6h0M1207.8 394.3h0M1215.5 393.8h0M1208.0 394.1h0M1220.5 394.1h0M1212.1 395.5h0M1209.8 397.7h0M1209.4 397.0h0M1212.7 397.2h0M1219.4 397.6h0M1209.0 396.8h0M1219.6 396.8h0M1218.3 398.8h0M1212.4 399.5h0M1219.5 398.3h0M1220.1 399.9h0M1216.0 399.2h0M1208.6 399.4h0M1220.9 399.4h0M1218.0 403.1h0M1209.5 400.8h0M1221.1 401.2h0M1219.4 401.8h0M1211.4 400.8h0M1209.2 402.1h0M1221.9 402.1h0M1212.5 405.7h0M1218.9 404.1h0M1214.1 404.5h0M1218.3 404.1h0M1213.5 404.7h0M1209.3 404.7h0M1221.5 404.7h0M1209.7 407.0h0M1216.8 406.6h0M1214.3 407.5h0M1213.9 406.5h0M1220.9 406.2h0M1209.1 407.4h0M1221.8 407.4h0M1214.9 410.3h0M1221.4 409.5h0M1210.1 409.2h0M1221.4 410.3h0M1219.6 409.7h0M1210.3 410.0h0M1221.7 410.0h0M1211.8 412.2h0M1219.1 413.7h0M1216.0 413.4h0M1211.1 413.0h0M1214.1 413.2h0M1209.9 412.7h0M1222.3 412.7h0M1219.8 416.4h0M1215.6 414.2h0M1221.1 414.7h0M1219.9 415.3h0M1216.1 414.1h0M1211.0 415.3h0M1222.4 415.3h0M1221.5 418.0h0M1223.9 416.6h0M1215.8 418.0h0M1211.0 418.9h0M1212.3 418.2h0M1210.8 418.0h0M1223.7 418.0h0M1212.9 421.1h0M1219.3 419.5h0M1224.1 419.6h0M1213.7 420.0h0M1215.6 420.6h0M1210.7 420.6h0M1223.6 420.6h0M1214.5 422.9h0M1217.1 424.3h0M1221.7 423.2h0M1211.8 422.9h0M1222.3 423.1h0M1211.8 423.3h0M1223.9 423.3h0M1220.9 424.9h0M1217.1 426.9h0M1214.9 426.0h0M1216.1 426.0h0M1216.7 425.5h0M1212.3 425.9h0M1224.8 425.9h0M1218.3 428.2h0M1223.9 428.2h0M1221.3 427.7h0M1219.3 427.9h0M1224.6 428.2h0M1212.5 428.6h0M1225.0 428.6h0M1225.3 431.7h0M1223.8 431.4h0M1220.9 430.3h0M1223.9 431.6h0M1221.3 430.7h0M1212.9 431.2h0M1224.8 431.2h0M1223.5 434.3h0M1224.5 434.4h0M1218.0 435.1h0M1225.4 434.3h0M1218.7 433.9h0M1213.9 433.9h0M1225.9 433.9h0M1219.6 437.3h0M1213.3 436.2h0M1216.6 436.8h0M1218.0 436.8h0M1225.8 436.3h0M1213.0 436.5h0M1226.6 436.5h0M1219.7 437.9h0M1214.9 437.8h0M1226.3 438.0h0M1218.0 439.1h0M1221.6 438.4h0M1214.4 439.2h0M1227.6 439.2h0M1218.1 440.8h0M1218.0 441.1h0M1214.3 442.6h0M1217.8 442.5h0M1225.6 442.6h0M1214.7 441.8h0M1227.3 441.8h0M1223.0 444.3h0M1226.2 444.5h0M1219.4 444.4h0M1221.1 443.6h0M1224.0 445.3h0M1214.4 444.5h0M1227.6 444.5h0M1216.8 447.1h0M1224.7 447.2h0M1219.7 445.8h0M1225.0 446.2h0M1223.5 447.2h0M1215.1 447.1h0M1228.1 447.1h0M1227.9 448.9h0M1225.7 449.4h0M1225.5 450.3h0M1221.3 450.9h0M1221.8 449.7h0M1215.8 449.8h0M1229.2 449.8h0M1228.6 451.5h0M1217.9 452.6h0M1219.5 452.3h0M1218.9 453.0h0M1226.5 452.9h0M1216.2 452.4h0M1230.1 452.4h0M1226.7 455.2h0M1229.7 455.9h0M1225.8 455.9h0M1223.8 454.5h0M1217.6 455.6h0M1217.6 455.1h0M1230.0 455.1h0M1230.0 457.4h0M1219.2 458.9h0M1227.8 458.8h0M1230.9 457.5h0M1219.4 457.7h0M1217.8 457.7h0M1230.8 457.7h0M1231.2 459.6h0M1221.7 461.2h0M1221.1 461.0h0M1221.6 460.1h0M1224.3 459.7h0M1219.2 460.4h0M1231.4 460.4h0M1218.8 462.9h0M1228.5 463.1h0M1231.5 464.3h0M1227.7 462.4h0M1223.9 461.9h0M1219.5 463.0h0M1231.8 463.0h0M1226.3 466.7h0M1227.7 464.6h0M1224.8 464.9h0M1230.0 465.4h0M1225.0 466.7h0M1219.7 465.7h0M1232.1 465.7h0M1226.8 468.7h0M1224.1 468.7h0M1225.2 469.2h0M1227.0 468.9h0M1227.3 468.8h0M1219.8 468.3h0M1232.5 468.3h0M1220.3 471.7h0M1227.1 470.9h0M1229.5 469.8h0M1221.8 471.5h0M1220.7 471.9h0M1221.6 471.0h0M1232.9 471.0h0M1225.2 473.4h0M1230.9 473.5h0M1230.2 474.9h0M1230.6 473.6h0M1230.5 473.6h0M1221.3 473.6h0M1232.5 473.6h0M1228.7 476.4h0M1222.6 476.4h0M1233.5 475.6h0M1231.5 475.6h0M1230.7 475.7h0M1222.4 476.3h0M1233.2 476.3h0M1228.6 478.2h0M1225.8 479.1h0M1231.5 478.1h0M1222.7 478.2h0M1230.1 478.7h0M1222.9 478.9h0M1234.0 478.9h0M1224.2 481.8h0M1230.7 480.9h0M1230.9 480.6h0M1234.9 481.7h0M1234.2 482.0h0M1223.4 481.6h0M1234.7 481.6h0M1231.7 484.9h0M1231.5 483.5h0M1235.2 485.3h0M1228.4 485.3h0M1235.6 483.8h0M1223.1 484.2h0M1235.4 484.2h0M1226.3 487.5h0M1223.5 487.2h0M1228.5 487.4h0M1226.6 486.8h0M1226.0 485.6h0M1223.8 486.9h0M1234.6 486.9h0M1228.4 489.6h0M1225.5 489.3h0M1234.8 490.4h0M1234.1 490.6h0M1226.7 488.3h0M1224.7 489.5h0M1235.9 489.5h0M1233.2 491.4h0M1231.9 491.9h0M1226.0 492.9h0M1226.6 493.0h0M1233.8 492.0h0M1224.6 492.2h0M1235.8 492.2h0M1229.4 495.0h0M1229.3 494.2h0M1226.8 495.5h0M1230.1 493.9h0M1235.6 493.9h0M1225.0 494.8h0M1236.0 494.8h0M1225.6 498.6h0M1233.9 498.3h0M1230.4 497.3h0M1226.4 496.8h0M1236.0 496.9h0M1226.5 497.5h0M1237.4 497.5h0M1230.9 501.0h0M1229.5 499.4h0M1225.9 500.2h0M1232.4 499.3h0M1228.8 500.5h0M1226.8 500.1h0M1237.3 500.1h0M1227.7 502.9h0M1229.7 501.7h0M1234.8 502.9h0M1229.4 502.1h0M1235.0 503.9h0M1227.0 502.8h0M1237.7 502.8h0M1233.6 504.9h0M1233.9 505.5h0M1227.0 504.4h0M1231.6 504.5h0M1233.2 505.7h0M1227.8 505.4h0M1237.6 505.4h0M1228.3 509.0h0M1238.2 508.3h0M1236.9 508.2h0M1232.2 507.2h0M1232.7 508.6h0M1228.2 508.1h0M1237.6 508.1h0M1231.8 509.4h0M1232.4 510.8h0M1236.6 510.0h0M1227.5 511.3h0M1229.6 511.6h0M1227.4 510.7h0M1238.2 510.7h0M1230.3 514.6h0M1228.3 512.4h0M1234.8 513.8h0M1234.9 514.5h0M1230.0 512.2h0M1228.1 513.4h0M1239.1 513.4h0M1238.6 515.4h0M1236.3 516.2h0M1231.4 517.1h0M1231.1 515.5h0M1230.3 516.5h0M1228.5 516.0h0M1239.1 516.0h0M1232.4 518.8h0M1236.2 517.3h0M1228.9 519.5h0M1228.5 518.7h0M1239.7 518.7h0M1238.7 520.8h0M1240.1 520.2h0M1239.5 520.1h0M1230.2 521.3h0M1239.3 521.3h0M1233.3 525.2h0M1239.8 523.4h0M1238.3 525.1h0M1229.7 524.0h0M1240.1 524.0h0M1240.3 526.4h0M1234.8 525.7h0M1232.7 527.6h0M1230.8 526.6h0M1240.4 526.6h0M1233.4 527.9h0M1231.2 530.1h0M1241.1 530.5h0M1231.2 529.3h0M1241.1 529.3h0M1240.8 532.8h0M1238.1 531.3h0M1231.4 531.1h0M1230.4 531.9h0M1241.4 531.9h0M1232.9 535.6h0M1234.7 533.2h0M1230.5 534.7h0M1231.2 534.6h0M1241.4 534.6h0M1237.9 537.3h0M1233.2 538.1h0M1242.0 538.0h0M1232.1 537.2h0M1241.5 537.2h0M1235.7 540.6h0M1232.9 539.1h0M1236.2 540.0h0M1231.4 539.9h0M1241.9 539.9h0M1241.3 541.4h0M1237.2 542.8h0M1240.9 542.1h0M1232.6 542.5h0M1241.9 542.5h0M1235.3 545.6h0M1239.8 545.6h0M1239.2 544.9h0M1232.0 545.2h0M1242.8 545.2h0M1238.0 546.9h0M1234.9 547.3h0M1236.0 547.6h0M1232.5 547.8h0M1242.5 547.8h0M1238.2 551.3h0M1237.9 550.5h0M1236.0 549.6h0M1232.1 550.5h0M1243.3 550.5h0M1237.0 553.3h0M1233.6 553.8h0M1237.4 553.4h0M1233.5 553.1h0M1243.3 553.1h0M1238.7 555.1h0M1240.9 555.4h0M1235.1 554.5h0M1232.8 555.8h0M1242.3 555.8h0M1233.6 558.2h0M1237.7 558.9h0M1241.5 559.7h0M1233.1 558.4h0M1243.9 558.4h0M1236.4 561.4h0M1243.1 560.0h0M1236.4 562.1h0M1234.1 561.1h0M1244.1 561.1h0M1236.3 564.0h0M1234.6 563.7h0M1242.6 562.4h0M1234.6 563.7h0M1243.5 563.7h0M1241.6 566.2h0M1238.0 566.7h0M1239.3 567.5h0M1235.3 566.4h0M1244.2 566.4h0M1240.0 569.4h0M1241.1 570.3h0M1238.1 569.0h0M1236.2 569.0h0M1244.8 569.0h0M1237.3 571.4h0M1239.8 571.5h0M1238.0 571.6h0M1235.6 571.7h0M1244.5 571.7h0M1237.9 573.6h0M1236.3 574.2h0M1242.7 574.1h0M1236.8 574.3h0M1245.8 574.3h0M1241.4 578.1h0M1243.4 576.8h0M1239.0 576.0h0M1237.6 577.0h0M1246.1 577.0h0M1239.6 580.2h0M1244.4 579.3h0M1245.5 579.3h0M1237.2 579.6h0M1245.5 579.6h0M1238.2 581.7h0M1241.2 582.2h0M1237.6 583.4h0M1237.8 582.3h0M1246.1 582.3h0M1246.6 585.5h0M1245.9 585.9h0M1244.1 583.7h0M1238.7 584.9h0M1246.9 584.9h0M1238.9 588.5h0M1244.4 587.0h0M1242.6 588.5h0M1239.2 587.6h0M1246.1 587.6h0M1245.9 591.4h0M1242.1 590.2h0M1241.6 589.8h0M1240.1 590.2h0M1246.4 590.2h0M1243.4 593.3h0M1247.2 592.7h0M1247.3 593.6h0M1239.6 592.9h0M1247.8 592.9h0M1241.7 594.7h0M1240.4 596.6h0M1248.2 596.4h0M1240.6 595.5h0M1247.6 595.5h0M1244.4 597.2h0M1242.0 597.7h0M1242.9 598.6h0M1240.2 598.2h0M1247.3 598.2h0M1248.2 601.5h0M1241.9 600.8h0M1247.3 601.6h0M1241.0 600.8h0M1248.7 600.8h0M1242.7 604.1h0M1246.3 603.3h0M1245.5 603.5h0M1240.8 603.5h0M1248.0 603.5h0M1244.9 606.8h0M1248.4 606.6h0M1248.2 607.3h0M1242.5 606.1h0M1248.7 606.1h0M1248.2 607.7h0M1246.8 607.7h0M1248.1 608.3h0M1241.9 608.8h0M1249.6 608.8h0M1244.6 612.0h0M1243.6 612.2h0M1247.5 612.1h0M1243.3 611.4h0M1250.5 611.4h0M1247.9 614.2h0M1244.9 613.5h0M1249.9 614.9h0M1243.2 614.1h0M1251.3 614.1h0M1249.5 617.1h0M1251.9 617.4h0M1246.3 616.1h0M1243.6 616.7h0M1251.9 616.7h0M1243.3 619.3h0M1252.0 618.8h0M1250.4 620.0h0M1243.6 619.4h0M1252.1 619.4h0M1249.3 623.2h0M1248.5 621.6h0M1252.7 622.3h0M1244.0 622.0h0M1253.4 622.0h0M1253.0 624.6h0M1252.1 623.9h0M1248.5 624.0h0M1244.3 624.7h0M1253.7 624.7h0M1246.1 626.5h0M1251.4 626.8h0M1244.9 627.0h0M1245.2 627.3h0M1254.3 627.3h0M1254.9 630.5h0M1249.1 629.7h0M1246.5 629.0h0M1244.9 630.0h0M1254.5 630.0h0M1246.0 632.9h0M1247.9 633.0h0M1252.6 632.4h0M1244.3 632.6h0M1254.1 632.6h0M1252.8 634.3h0M1254.6 636.4h0M1248.2 635.4h0M1244.9 635.3h0M1253.7 635.3h0M1249.5 637.7h0M1250.3 636.9h0M1249.3 637.4h0M1245.4 637.9h0M1253.9 637.9h0M1249.7 641.0h0M1249.0 641.8h0M1247.0 639.3h0M1245.9 640.6h0M1253.9 640.6h0M1248.3 642.5h0M1252.5 644.2h0M1247.8 643.4h0M1245.4 643.2h0M1253.6 643.2h0M1254.2 646.9h0M1253.4 645.2h0M1246.4 646.7h0M1246.5 645.9h0M1253.2 645.9h0M1246.2 647.4h0M1253.1 648.6h0M1249.5 649.8h0M1246.1 648.5h0M1253.6 648.5h0M1249.7 650.7h0M1247.8 650.6h0M1248.2 650.3h0M1246.6 651.2h0M1252.8 651.2h0M1251.5 652.9h0M1253.6 655.0h0M1252.7 653.4h0M1247.3 653.8h0M1253.4 653.8h0M1251.7 656.6h0M1253.6 657.2h0M1252.7 657.7h0M1247.9 656.5h0M1252.8 656.5h0M1247.5 659.1h0M1250.1 658.0h0M1251.5 659.9h0M1247.2 659.1h0M1253.4 659.1h0M1247.3 661.2h0M1254.0 661.2h0M1249.2 661.6h0M1248.3 661.8h0M1253.4 661.8h0M1247.6 663.3h0M1250.1 664.8h0M1248.4 663.2h0M1247.7 664.4h0M1254.5 664.4h0M1248.2 666.5h0M1251.8 667.5h0M1249.7 667.1h0M1248.5 667.1h0M1253.9 667.1h0M1247.9 670.8h0M1249.4 669.9h0M1249.3 669.6h0M1248.9 669.7h0M1253.8 669.7h0M1255.1 672.2h0M1252.1 672.0h0M1250.2 672.4h0M1248.3 672.4h0M1254.8 672.4h0M1252.6 674.4h0M1253.5 675.0h0M1250.6 674.9h0M1248.6 675.0h0M1255.4 675.0h0M1251.5 678.1h0M1249.0 678.8h0M1250.1 678.9h0M1249.6 677.7h0M1255.6 677.7h0M1252.5 681.0h0M1254.4 680.9h0M1253.7 679.3h0M1249.7 680.3h0M1254.7 680.3h0M1249.9 683.1h0M1251.1 682.1h0M1255.8 683.3h0M1250.1 683.0h0M1254.8 683.0h0M1249.9 685.3h0M1251.0 685.9h0M1252.2 686.7h0M1249.9 685.6h0M1255.2 685.6h0M1252.7 687.9h0M1254.7 687.3h0M1254.6 687.5h0M1249.9 688.3h0M1255.2 688.3h0M1250.2 690.0h0M1256.1 691.8h0M1252.0 691.7h0M1250.4 690.9h0M1256.1 690.9h0M1251.2 694.5h0M1255.0 692.9h0M1253.1 694.0h0M1250.6 693.6h0M1255.5 693.6h0M1251.1 695.6h0M1253.7 697.5h0M1257.0 694.9h0M1250.7 696.2h0M1256.9 696.2h0M1254.0 700.2h0M1257.0 698.5h0M1256.6 699.4h0M1252.0 698.9h0M1255.8 698.9h0M1251.8 702.6h0M1254.3 701.6h0M1252.1 701.5h0M1251.7 701.5h0M1256.6 701.5h0M1257.0 703.2h0M1255.9 704.4h0M1256.9 703.7h0M1252.4 704.2h0M1257.1 704.2h0M1256.8 707.2h0M1254.5 705.5h0M1256.3 706.6h0M1252.0 706.8h0M1256.5 706.8h0M1256.7 710.7h0M1255.9 708.6h0M1254.3 710.8h0M1252.1 709.5h0M1257.7 709.5h0M1253.6 712.4h0M1252.3 713.1h0M1254.6 711.2h0M1252.6 712.1h0M1257.5 712.1h0M1252.8 714.4h0M1255.3 713.7h0M1255.3 715.7h0M1252.3 714.8h0M1258.3 714.8h0M1253.2 716.1h0M1255.7 716.6h0M1254.1 716.4h0M1252.5 717.4h0M1257.5 717.4h0M1255.5 720.3h0M1254.7 720.9h0M1257.0 718.9h0M1252.8 720.1h0M1258.7 720.1h0M1256.0 723.1h0M1257.6 722.2h0M1253.2 722.6h0M1253.7 722.7h0M1258.1 722.7h0M1257.2 726.5h0M1259.3 726.0h0M1258.3 724.4h0M1254.2 725.4h0M1258.3 725.4h0M1258.4 727.6h0M1254.5 728.4h0M1254.1 728.0h0M1254.0 728.0h0M1258.9 728.0h0M1257.7 729.5h0M1259.4 731.2h0M1259.5 731.0h0M1255.0 730.7h0M1259.2 730.7h0M1254.2 732.0h0M1258.6 734.2h0M1256.5 732.5h0M1255.3 733.3h0M1260.2 733.3h0M1255.6 735.2h0M1259.0 735.3h0M1260.0 735.7h0M1254.9 736.0h0M1259.4 736.0h0M1254.7 738.4h0M1257.0 737.4h0M1256.0 739.9h0M1255.2 738.6h0M1259.6 738.6h0M1260.3 741.9h0M1258.5 741.3h0M1259.4 741.5h0M1255.1 741.3h0M1260.1 741.3h0M1257.9 744.8h0M1256.9 743.6h0M1258.8 745.2h0M1256.4 743.9h0M1260.1 743.9h0M1257.3 747.0h0M1261.1 747.6h0M1259.8 747.5h0M1256.2 746.6h0M1261.0 746.6h0M1261.9 750.4h0M1255.9 748.7h0M1257.2 750.1h0M1256.8 749.2h0M1261.5 749.2h0M1262.1 750.9h0M1259.6 751.3h0M1260.7 750.7h0M1256.3 751.9h0M1261.8 751.9h0M1260.4 753.3h0M1262.2 754.9h0M1262.0 755.2h0M1257.3 754.5h0M1262.2 754.5h0M1262.1 757.6h0M1258.6 756.0h0M1260.6 756.0h0M1256.5 757.2h0M1261.7 757.2h0M1258.4 761.1h0M1258.5 760.6h0M1261.4 760.2h0M1256.9 759.8h0M1261.7 759.8h0M1260.3 761.6h0M1257.5 761.8h0M1263.1 762.0h0M1257.7 762.5h0M1262.1 762.5h0M1262.2 764.6h0M1257.4 766.2h0M1262.4 765.8h0M1258.6 765.1h0M1263.5 765.1h0M1263.7 768.3h0M1258.6 768.8h0M1261.3 768.1h0M1257.8 767.8h0M1263.8 767.8h0M1258.9 769.3h0M1261.4 769.5h0M1262.7 770.3h0M1259.1 770.4h0M1263.8 770.4h0M1260.3 773.8h0M1260.1 774.2h0M1260.1 773.4h0M1259.0 773.1h0M1263.7 773.1h0M1262.9 776.6h0M1259.1 774.8h0M1259.6 776.4h0M1259.3 775.7h0M1264.3 775.7h0M1261.7 777.0h0M1260.7 778.6h0M1260.2 779.1h0M1259.1 778.4h0M1264.6 778.4h0M1263.0 780.7h0M1259.1 780.0h0M1262.9 781.9h0M1260.0 781.0h0M1264.0 781.0h0M1264.4 783.9h0M1262.4 782.8h0M1260.5 782.6h0M1259.6 783.7h0M1264.6 783.7h0M1264.6 785.7h0M1265.0 787.2h0M1260.5 786.5h0M1259.4 786.3h0M1265.4 786.3h0M1259.6 787.7h0M1264.7 789.9h0M1265.1 787.8h0M1260.8 789.0h0M1265.4 789.0h0M1264.3 791.7h0M1261.9 790.7h0M1260.5 792.2h0M1259.8 791.6h0M1265.4 791.6h0M1261.7 794.2h0M1263.3 793.6h0M1260.8 794.0h0M1260.3 794.3h0M1265.2 794.3h0M1263.9 796.5h0M1266.2 797.7h0M1266.6 796.4h0M1260.9 796.9h0M1265.7 796.9h0M1264.0 799.6h0M1266.1 799.2h0M1261.3 798.7h0M1260.6 799.6h0M1266.0 799.6h0M1265.7 802.1h0M1263.9 801.5h0M1266.3 802.0h0M1261.7 802.2h0M1265.5 802.2h0M1263.9 804.7h0M1266.1 804.7h0M1262.1 804.8h0M1261.2 804.9h0M1266.7 804.9h0M1264.9 807.0h0M1261.7 808.3h0M1265.9 808.1h0M1261.2 807.5h0M1266.1 807.5h0M1266.1 810.4h0M1265.2 809.3h0M1261.5 811.1h0M1261.5 810.2h0M1266.5 810.2h0M1265.7 813.8h0M1267.2 812.2h0M1262.9 811.8h0M1261.4 812.8h0M1266.8 812.8h0M1264.6 814.3h0M1267.3 814.8h0M1266.4 814.7h0M1261.7 815.5h0M1267.4 815.5h0" stroke="#00ffff" stroke-width="6.6" stroke-linecap="round" fill="none"/>
<polyline points="1121.7,80.3 1122.8,106.8 1124.3,133.3 1139.7,159.8 1153.6,186.3 1168.9,212.8 1180.6,239.3 1187.9,265.8 1193.5,292.3 1198.6,318.8 1203.5,345.3 1209.5,371.8 1214.2,398.3 1217.9,424.8 1222.8,451.3 1227.5,477.8 1231.4,504.3 1234.6,530.9 1236.7,557.3 1240.6,583.8 1243.6,610.3 1245.7,636.8 1248.5,663.3 1251.1,689.8 1253.4,716.3 1256.2,742.8 1258.8,769.3 1261.4,795.8 1263.1,822.3" fill="none" stroke="#0000ff" stroke-width="2.6" stroke-linejoin="round"/>
<path d="M1121.7 80.3h0M1122.8 106.8h0M1124.3 133.3h0M1139.7 159.8h0M1153.6 186.3h0M1168.9 212.8h0M1180.6 239.3h0M1187.9 265.8h0M1193.5 292.3h0M1198.6 318.8h0M1203.5 345.3h0M1209.5 371.8h0M1214.2 398.3h0M1217.9 424.8h0M1222.8 451.3h0M1227.5 477.8h0M1231.4 504.3h0M1234.6 530.9h0M1236.7 557.3h0M1240.6 583.8h0M1243.6 610.3h0M1245.7 636.8h0M1248.5 663.3h0M1251.1 689.8h0M1253.4 716.3h0M1256.2 742.8h0M1258.8 769.3h0M1261.4 795.8h0M1263.1 822.3h0" stroke="#0000ff" stroke-width="11.5" stroke-linecap="round" fill="none"/>
<polyline points="1092.6,19.4 1092.7,30.0 1092.8,40.6 1092.9,51.2 1093.0,61.8 1093.2,72.4 1093.6,83.0 1094.3,98.9 1095.3,125.4 1096.4,151.9 1097.5,178.4 1100.5,204.9 1102.4,231.4 1106.5,257.9 1110.8,284.4 1117.4,337.4 1121.9,390.4 1130.3,443.4 1141.8,496.4 1157.5,549.4 1199.7,681.9 1231.4,814.4" fill="none" stroke="#ff0000" stroke-width="7.8" stroke-linejoin="round"/>
<path d="M1092.6 19.4h0M1092.7 30.0h0M1092.8 40.6h0M1092.9 51.2h0M1093.0 61.8h0M1093.2 72.4h0M1093.6 83.0h0M1094.3 98.9h0M1095.3 125.4h0M1096.4 151.9h0M1097.5 178.4h0M1100.5 204.9h0M1102.4 231.4h0M1106.5 257.9h0M1110.8 284.4h0M1117.4 337.4h0M1121.9 390.4h0M1130.3 443.4h0M1141.8 496.4h0M1157.5 549.4h0M1199.7 681.9h0M1231.4 814.4h0" stroke="#ff0000" stroke-width="11.5" stroke-linecap="round" fill="none"/>
<polyline points="1116.1,19.4 1116.4,30.0 1116.6,40.6 1116.9,51.2 1117.1,61.8 1117.4,72.4 1117.6,83.0 1117.8,98.9 1118.9,125.4 1120.4,151.9 1122.1,178.4 1128.4,204.9 1141.4,231.4 1156.4,257.9 1169.3,284.4 1186.8,337.4 1201.4,390.4 1208.2,443.4 1218.5,496.4 1227.7,549.4 1244.9,681.9 1259.2,814.4" fill="none" stroke="#008000" stroke-width="2.6" stroke-linejoin="round"/>
<path d="M1116.1 19.4h0M1116.4 30.0h0M1116.6 40.6h0M1116.9 51.2h0M1117.1 61.8h0M1117.4 72.4h0M1117.6 83.0h0M1117.8 98.9h0M1118.9 125.4h0M1120.4 151.9h0M1122.1 178.4h0M1128.4 204.9h0M1141.4 231.4h0M1156.4 257.9h0M1169.3 284.4h0M1186.8 337.4h0M1201.4 390.4h0M1208.2 443.4h0M1218.5 496.4h0M1227.7 549.4h0M1244.9 681.9h0M1259.2 814.4h0" stroke="#008000" stroke-width="11.5" stroke-linecap="round" fill="none"/>
<polyline points="1111.4,22.0 1111.5,27.6 1111.6,33.4 1111.8,39.6 1111.9,46.3 1112.1,53.5 1112.3,61.4 1112.5,70.1 1112.8,79.8 1113.1,90.8 1113.6,103.2 1114.2,117.4 1114.6,133.9 1116.1,153.0 1125.3,175.4 1146.8,201.9 1163.9,233.2 1177.4,270.5 1187.9,314.9 1197.1,368.2 1208.2,432.0 1218.5,508.7 1230.7,601.0 1242.7,712.0 1253.1,845.4" fill="none" stroke="#ff00ff" stroke-width="2.6" stroke-linejoin="round"/>
<path d="M1111.4 22.0h0M1111.5 27.6h0M1111.6 33.4h0M1111.8 39.6h0M1111.9 46.3h0M1112.1 53.5h0M1112.3 61.4h0M1112.5 70.1h0M1112.8 79.8h0M1113.1 90.8h0M1113.6 103.2h0M1114.2 117.4h0M1114.6 133.9h0M1116.1 153.0h0M1125.3 175.4h0M1146.8 201.9h0M1163.9 233.2h0M1177.4 270.5h0M1187.9 314.9h0M1197.1 368.2h0M1208.2 432.0h0M1218.5 508.7h0M1230.7 601.0h0M1242.7 712.0h0M1253.1 845.4h0" stroke="#ff00ff" stroke-width="11.5" stroke-linecap="round" fill="none"/>
</g>
<rect x="1072.7" y="19.4" width="400.9" height="795.0" fill="none" stroke="#000" stroke-width="1.4"/>
<path d="M1127.2 814.4v6.1M1205.3 814.4v6.1M1283.5 814.4v6.1M1361.6 814.4v6.1M1439.8 814.4v6.1M1072.7 19.4h-6.1M1072.7 125.4h-6.1M1072.7 231.4h-6.1M1072.7 337.4h-6.1M1072.7 443.4h-6.1M1072.7 549.4h-6.1M1072.7 655.4h-6.1M1072.7 761.4h-6.1" stroke="#000" stroke-width="1.4" fill="none"/>
<text transform="translate(1125.6 850.6) rotate(-45)" y="6.3" font-size="17.36" text-anchor="middle">1024</text>
<text transform="translate(1203.8 850.6) rotate(-45)" y="6.3" font-size="17.36" text-anchor="middle">1026</text>
<text transform="translate(1281.9 850.6) rotate(-45)" y="6.3" font-size="17.36" text-anchor="middle">1028</text>
<text transform="translate(1360.0 850.6) rotate(-45)" y="6.3" font-size="17.36" text-anchor="middle">1030</text>
<text transform="translate(1438.2 850.6) rotate(-45)" y="6.3" font-size="17.36" text-anchor="middle">1032</text>
<text transform="translate(29.9 418.2) rotate(-90)" font-size="22.57" font-weight="bold" text-anchor="middle">Depth (m)</text>
<text x="178.9" y="871.8" font-size="22.57" font-weight="bold">Temperature (<tspan font-weight="normal" font-style="italic" font-size="15.8" dy="-8.2" dx="1.1">o</tspan><tspan font-weight="normal" font-style="italic" dy="8.2" dx="1.2">C</tspan><tspan dx="0.5">)</tspan></text>
<text x="780.5" y="869.8" font-size="22.57" font-weight="bold" text-anchor="middle">Salinity</text>
<text x="1272.8" y="895.6" font-size="22.57" font-weight="bold" text-anchor="middle">Density (kg m-3)</text>
<text x="368.6" y="917.6" font-size="17.34" font-style="italic" xml:space="preserve">Ocean Heat Content (kJ/cm^2) - Glider: N/A,  RTOFS: 53.6746,  ESPC: 11.1793,  CMEMS: 8.6984,</text>
<text x="1524.0" y="36.5" font-size="22.57" font-weight="bold">Comparison Date: 2025-09-14</text>
<text x="1524.0" y="89.7" font-size="22.57" font-weight="bold">Glider: sam</text>
<text x="1524.0" y="116.3" font-size="22.57" font-weight="bold">Profiles: 12</text>
<text x="1524.0" y="142.9" font-size="22.57" font-weight="bold">First: 2025-09-14 00:24:23</text>
<text x="1524.0" y="169.5" font-size="22.57" font-weight="bold">Last: 2025-09-14 20:41:27</text>
<text x="1524.0" y="196.1" font-size="22.57" font-weight="bold">Method: Nearest-Neighbor</text><clipPath id="mc"><rect x="1564.2" y="274.2" width="402.3" height="284.8"/></clipPath>
<rect x="1564.2" y="274.2" width="402.3" height="284.8" fill="#97b6e1"/>
<rect x="1564.2" y="274.2" width="402.3" height="284.8" fill="none" stroke="#000" stroke-width="1.4"/>
<clipPath id="mc2"><rect x="1563.8" y="273.7" width="402.7" height="285.3"/></clipPath>
<g clip-path="url(#mc2)">
<polygon points="1707.6,274.4 1709.8,279.6 1710.6,284.7 1710.4,290.7 1709.3,295.4 1705.9,295.4 1699.9,298.8 1694.8,302.7 1690.5,307.8 1686.7,313.4 1684.5,311.2 1680.2,310.8 1674.2,311.2 1668.3,314.2 1662.3,318.5 1658.0,323.2 1655.8,329.2 1654.1,333.1 1651.1,330.9 1644.9,331.0 1638.5,333.9 1632.1,340.3 1627.6,347.3 1623.1,353.1 1616.7,357.6 1610.2,362.1 1603.8,366.6 1597.4,371.1 1592.3,376.3 1588.4,381.4 1583.9,387.8 1580.7,395.5 1578.1,403.2 1576.8,412.2 1576.8,419.9 1578.8,430.2 1581.3,439.2 1584.9,448.3 1589.1,458.1 1593.3,467.1 1596.7,471.3 1595.3,476.2 1598.1,484.5 1601.6,494.3 1605.1,504.0 1607.6,512.3 1607.9,523.5 1606.8,534.6 1604.4,544.3 1600.9,552.7 1596.7,557.6 1590.5,558.3 1584.9,554.1 1582.8,548.5 1583.5,544.3 1580.0,539.5 1574.5,536.0 1570.3,531.8 1567.5,526.3 1566.1,520.7 1568.9,516.5 1564.5,519.3 1561.2,519.3 1561.2,271.2 1707.6,271.2" fill="#d2b48c" stroke="none"/>
<polyline points="1598.3,274.4 1601.0,281.5 1607.1,290.3 1608.9,299.2 1612.5,306.2 1614.2,313.3 1618.6,320.4 1623.1,329.2 1625.7,335.1 1628.9,339.6 1627.6,344.1" fill="none" stroke="#97b6e1" stroke-width="2.1" stroke-linejoin="round" stroke-linecap="round" />
<polyline points="1623.1,274.4 1630.1,285.0 1638.1,293.0 1635.4,300.9 1636.3,308.0 1644.3,315.1 1650.3,318.5 1653.3,320.7 1654.1,324.1" fill="none" stroke="#97b6e1" stroke-width="2.1" stroke-linejoin="round" stroke-linecap="round" />
<polyline points="1564.2,293.9 1573.6,296.5 1576.2,304.5 1578.0,315.1 1580.6,323.0 1586.8,331.0 1592.3,335.1 1598.7,340.9 1603.8,342.8 1609.0,342.2 1615.4,345.4 1624.4,350.6" fill="none" stroke="#97b6e1" stroke-width="2.1" stroke-linejoin="round" stroke-linecap="round" />
<polyline points="1604.4,342.8 1609.8,350.4 1611.6,357.5 1610.3,361.0" fill="none" stroke="#97b6e1" stroke-width="2.1" stroke-linejoin="round" stroke-linecap="round" />
<polyline points="1670.8,274.4 1676.1,278.0 1681.4,277.1" fill="none" stroke="#97b6e1" stroke-width="2.1" stroke-linejoin="round" stroke-linecap="round" />
<polyline points="1564.0,386.5 1569.1,391.7 1574.3,398.1" fill="none" stroke="#97b6e1" stroke-width="2.1" stroke-linejoin="round" stroke-linecap="round" />
<polyline points="1577.5,422.5 1572.3,423.8 1571.7,431.5 1574.3,439.2 1571.1,444.4 1572.3,449.5 1575.9,453.9 1579.3,462.3 1584.9,465.7 1589.1,473.4 1591.5,480.3 1588.4,481.7 1584.9,479.0" fill="none" stroke="#97b6e1" stroke-width="2.1" stroke-linejoin="round" stroke-linecap="round" />
<polyline points="1575.2,326.6 1582.0,327.5" fill="none" stroke="#97b6e1" stroke-width="2.1" stroke-linejoin="round" stroke-linecap="round" />
<polygon points="1590.2,504.3 1595.3,510.3 1591.5,516.5 1585.3,511.7" fill="#b4b4b4"/>
<circle cx="1572.4" cy="468.5" r="1.2" fill="#b4b4b4"/>
<circle cx="1580.5" cy="485.9" r="1.2" fill="#b4b4b4"/>
<circle cx="1580.3" cy="499.5" r="1.2" fill="#b4b4b4"/>
<polyline points="1564.2,296.1 1584.7,297.4 1586.0,299.3 1588.6,298.4 1591.1,302.5 1591.5,306.4 1616.9,306.8 1641.6,331.3" fill="none" stroke="#000" stroke-width="1.2" stroke-linejoin="round" stroke-linecap="round" />
<polyline points="1564.0,340.9 1569.1,346.7 1574.3,353.1 1576.8,360.8 1580.7,367.3 1583.9,373.7 1585.8,378.2 1589.1,380.8" fill="none" stroke="#000" stroke-width="1.2" stroke-linejoin="round" stroke-linecap="round" />
<polyline points="1564.0,412.9 1567.8,412.2 1575.6,414.2 1576.8,414.8" fill="none" stroke="#000" stroke-width="1.2" stroke-linejoin="round" stroke-linecap="round" />
<polyline points="1564.8,413.5 1564.4,421.2" fill="none" stroke="#000" stroke-width="1.2" stroke-linejoin="round" stroke-linecap="round" />
<polygon points="1705.1,279.6 1708.9,281.6 1709.6,289.0 1708.6,294.2 1705.5,294.6 1700.2,297.4 1695.2,300.6 1691.4,301.4 1687.9,299.4 1689.2,294.5 1694.8,292.8 1699.1,289.0 1703.4,284.7" fill="#97b6e1" stroke="#000" stroke-width="1.6" stroke-linejoin="round"/>
<polyline points="1707.6,274.4 1709.8,279.6 1710.6,284.7 1710.4,290.7 1709.3,295.4 1705.9,295.4 1699.9,298.8 1694.8,302.7 1690.5,307.8 1686.7,313.4 1684.5,311.2 1680.2,310.8 1674.2,311.2 1668.3,314.2 1662.3,318.5 1658.0,323.2 1655.8,329.2 1654.1,333.1 1651.1,330.9 1644.9,331.0 1638.5,333.9 1632.1,340.3 1627.6,347.3 1623.1,353.1 1616.7,357.6 1610.2,362.1 1603.8,366.6 1597.4,371.1 1592.3,376.3 1588.4,381.4 1583.9,387.8 1580.7,395.5 1578.1,403.2 1576.8,412.2 1576.8,419.9 1578.8,430.2 1581.3,439.2 1584.9,448.3 1589.1,458.1 1593.3,467.1 1596.7,471.3 1595.3,476.2 1598.1,484.5 1601.6,494.3 1605.1,504.0 1607.6,512.3 1607.9,523.5 1606.8,534.6 1604.4,544.3 1600.9,552.7 1596.7,557.6 1590.5,558.3 1584.9,554.1 1582.8,548.5 1583.5,544.3 1580.0,539.5 1574.5,536.0 1570.3,531.8 1567.5,526.3 1566.1,520.7 1568.9,516.5 1564.5,519.3" fill="none" stroke="#000" stroke-width="2.0" stroke-linejoin="round" stroke-linecap="round" />
<polyline points="1596.7,471.3 1595.3,476.2 1598.1,484.5 1601.6,494.3 1605.1,504.0 1607.6,512.3 1607.9,523.5 1606.8,534.6 1604.4,544.3 1600.9,552.7 1596.7,557.6" fill="none" stroke="#000" stroke-width="2.8" stroke-linejoin="round" stroke-linecap="round" />
<polyline points="1596.7,557.6 1590.5,558.3 1584.9,554.1 1582.8,548.5 1583.5,544.3 1580.0,539.5 1574.5,536.0 1570.3,531.8 1567.5,526.3 1566.1,520.7" fill="none" stroke="#000" stroke-width="3.6" stroke-linejoin="round" stroke-linecap="round" />
<polyline points="1592.3,376.3 1588.4,381.4 1583.9,387.8 1580.7,395.5 1578.1,403.2 1576.8,412.2" fill="none" stroke="#000" stroke-width="3.4" stroke-linejoin="round" stroke-linecap="round" />
<polyline points="1627.6,347.3 1623.1,353.1 1616.7,357.6 1610.2,362.1 1603.8,366.6 1597.4,371.1 1592.3,376.3" fill="none" stroke="#000" stroke-width="2.8" stroke-linejoin="round" stroke-linecap="round" />
<path d="M1631.3 341.6L1630.1 340.6M1630.5 342.8L1630.0 342.1M1628.7 345.5L1626.3 344.1M1623.9 352.1L1623.2 351.2M1619.4 355.7L1617.4 354.8M1617.6 357.0L1616.3 356.4M1613.0 360.2L1612.1 357.8M1608.5 363.3L1608.3 361.6M1605.6 365.3L1605.6 364.1M1602.5 367.5L1601.7 366.4M1600.9 368.6L1600.0 366.9M1595.0 373.5L1594.5 371.1M1594.4 374.1L1593.8 371.7" stroke="#000" stroke-width="1.5" stroke-linecap="round" fill="none"/>
<path d="M1590.1 379.2L1589.2 377.7M1589.3 380.2L1588.7 379.0M1585.7 385.2L1583.6 384.8M1584.2 387.3L1581.0 387.1M1583.9 387.9L1581.0 387.3M1582.3 391.6L1581.0 389.6M1582.2 391.8L1579.6 392.2M1581.2 394.4L1578.5 394.4M1580.1 397.2L1578.9 395.7M1579.8 398.2L1577.6 397.4M1579.0 400.5L1576.7 399.3M1578.0 404.2L1575.1 404.7M1577.5 407.7L1575.1 407.2M1577.3 408.6L1575.0 409.7M1576.9 411.4L1575.6 411.0" stroke="#000" stroke-width="1.7" stroke-linecap="round" fill="none"/>
<path d="M1594.6 557.8L1594.8 556.4M1593.5 558.0L1593.6 557.1M1587.8 556.3L1588.6 554.6M1586.2 555.1L1587.2 554.0M1584.5 553.0L1585.8 551.3M1583.1 549.2L1584.1 548.4M1583.2 543.9L1584.6 543.2M1581.2 541.1L1582.6 540.8M1577.6 538.0L1578.0 537.0M1574.8 536.2L1575.2 534.6M1573.4 534.9L1574.4 534.4M1569.9 531.0L1572.1 530.4M1567.4 525.9L1568.7 526.1M1566.6 522.5L1568.0 522.0" stroke="#000" stroke-width="1.6" stroke-linecap="round" fill="none"/>
<path d="M1689.6 309.1L1688.4 309.1M1688.7 310.4L1686.6 309.2M1687.7 311.9L1686.9 310.9M1687.0 312.9L1685.3 312.3" stroke="#000" stroke-width="1.6" stroke-linecap="round" fill="none"/>
<polyline points="1589.8,369.5 1590.5,373.5 1593.5,372.0 1594.5,369.0 1597.5,368.0" fill="none" stroke="#000" stroke-width="2.2" stroke-linejoin="round" stroke-linecap="round" />
<polyline points="1574.5,402.0 1576.5,406.0 1575.6,410.0" fill="none" stroke="#000" stroke-width="3" stroke-linejoin="round" stroke-linecap="round" />
<polyline points="1625.5,345.0 1626.5,349.0" fill="none" stroke="#000" stroke-width="2.6" stroke-linejoin="round" stroke-linecap="round" />
<polyline points="1682.0,275.4 1690.0,275.9 1700.0,275.7 1707.6,275.4" fill="none" stroke="#000" stroke-width="3.4" stroke-linejoin="round" stroke-linecap="round" />
<polyline points="1697.6,274.4 1697.6,284.2" fill="none" stroke="#000" stroke-width="2.4" stroke-linejoin="round" stroke-linecap="round" />
<polyline points="1701.5,276.5 1703.8,280.0 1702.6,284.8 1699.5,288.5 1694.5,291.8 1690.0,291.5" fill="none" stroke="#000" stroke-width="1.8" stroke-linejoin="round" stroke-linecap="round" />
<polyline points="1676.0,287.6 1681.0,289.8 1684.5,287.2 1688.5,288.2 1691.0,291.6" fill="none" stroke="#000" stroke-width="4.2" stroke-linejoin="round" stroke-linecap="round" />
<polyline points="1682.0,290.5 1687.5,292.0" fill="none" stroke="#000" stroke-width="4" stroke-linejoin="round" stroke-linecap="round" />
<polyline points="1687.5,292.0 1685.5,296.2 1684.2,299.5" fill="none" stroke="#000" stroke-width="3.4" stroke-linejoin="round" stroke-linecap="round" />
<polyline points="1676.0,300.2 1679.0,302.6 1683.5,302.0 1686.8,299.8 1690.5,300.6" fill="none" stroke="#000" stroke-width="4.0" stroke-linejoin="round" stroke-linecap="round" />
<polyline points="1686.5,302.5 1690.8,303.5 1688.5,309.5 1686.7,313.0" fill="none" stroke="#000" stroke-width="3.4" stroke-linejoin="round" stroke-linecap="round" />
<polyline points="1672.5,309.2 1673.5,311.6" fill="none" stroke="#000" stroke-width="2.4" stroke-linejoin="round" stroke-linecap="round" />
<polyline points="1592.2,467.8 1593.4,471.8 1595.8,474.5" fill="none" stroke="#000" stroke-width="3.2" stroke-linejoin="round" stroke-linecap="round" />
<polyline points="1602.0,502.5 1603.5,505.5" fill="none" stroke="#000" stroke-width="3.2" stroke-linejoin="round" stroke-linecap="round" />
<polyline points="1630.8,515.8 1633.5,518.8 1637.1,520.7 1640.5,519.6 1644.0,517.9 1649.5,516.6 1655.2,515.8 1657.3,520.0" fill="none" stroke="#000" stroke-width="2.8" stroke-linejoin="round" stroke-linecap="round" />
<polyline points="1639.7,512.0 1640.6,515.2 1642.7,517.9" fill="none" stroke="#000" stroke-width="2.6" stroke-linejoin="round" stroke-linecap="round" />
<polyline points="1644.0,501.9 1648.0,504.6 1652.4,506.8" fill="none" stroke="#000" stroke-width="1.8" stroke-linejoin="round" stroke-linecap="round" />
<polyline points="1652.4,506.8 1656.5,508.4 1660.7,509.6" fill="none" stroke="#000" stroke-width="1.6" stroke-linejoin="round" stroke-linecap="round" />
<polyline points="1655.5,511.5 1660.7,510.4 1665.0,512.5 1669.1,515.8 1672.8,519.3 1676.0,520.7 1675.6,524.0 1674.7,526.3 1673.2,529.5 1671.9,531.8 1670.5,537.4" fill="none" stroke="#000" stroke-width="3.4" stroke-linejoin="round" stroke-linecap="round" />
<polyline points="1668.5,517.0 1673.0,521.5 1672.0,527.0" fill="none" stroke="#000" stroke-width="4" stroke-linejoin="round" stroke-linecap="round" />
<polyline points="1669.8,535.2 1671.2,533.0" fill="none" stroke="#d2b48c" stroke-width="1.2" stroke-linejoin="round" stroke-linecap="round" />
<polyline points="1673.3,524.5 1673.8,522.8" fill="none" stroke="#d2b48c" stroke-width="1.0" stroke-linejoin="round" stroke-linecap="round" />
<polyline points="1641.6,516.9 1642.6,515.6" fill="none" stroke="#d2b48c" stroke-width="1.2" stroke-linejoin="round" stroke-linecap="round" />
<circle cx="1649.6" cy="508.2" r="1.3" fill="#000"/>
<circle cx="1662.8" cy="527" r="1.2" fill="#000"/>
<circle cx="1663.9" cy="531.8" r="1.1" fill="#000"/>
<circle cx="1657.8" cy="523.5" r="0.8" fill="#000"/>
<polyline points="1625.6,538.7 1624.6,541.5 1624.8,544.3" fill="none" stroke="#000" stroke-width="2.6" stroke-linejoin="round" stroke-linecap="round" />
<polyline points="1624.8,544.3 1625.8,548.0 1627.3,551.3" fill="none" stroke="#222" stroke-width="1.2" stroke-linejoin="round" stroke-linecap="round" />
<circle cx="1629.4" cy="532.9" r="0.9" fill="#6f7f93"/>
<circle cx="1634.3" cy="534.9" r="0.9" fill="#6f7f93"/>
<polyline points="1655.2,538.1 1657.6,540.8 1659.3,543.7 1658.6,546.2 1657.3,547.8 1654.5,547.1" fill="none" stroke="#000" stroke-width="2.6" stroke-linejoin="round" stroke-linecap="round" />
<polyline points="1649.6,551.3 1650.8,554.2 1652.4,559.0" fill="none" stroke="#000" stroke-width="3.6" stroke-linejoin="round" stroke-linecap="round" />
<polyline points="1647.8,553.5 1649.0,558.5" fill="none" stroke="#000" stroke-width="2.2" stroke-linejoin="round" stroke-linecap="round" />
<polyline points="1651.8,557.2 1652.2,559.0" fill="none" stroke="#d2b48c" stroke-width="1.4" stroke-linejoin="round" stroke-linecap="round" />
<polyline points="1663.5,558.3 1666.5,556.3 1669.1,555.5 1672.5,554.8 1676.0,553.4" fill="none" stroke="#000" stroke-width="2.6" stroke-linejoin="round" stroke-linecap="round" />
<polyline points="1676.0,553.4 1677.5,550.5 1678.8,546.4" fill="none" stroke="#444" stroke-width="1.2" stroke-linejoin="round" stroke-linecap="round" />
<polyline points="1678.8,546.4 1680.8,545.2 1683.0,545.0 1685.8,547.6 1688.6,549.9 1691.5,552.2 1694.1,554.1 1696.2,557.6" fill="none" stroke="#000" stroke-width="2.6" stroke-linejoin="round" stroke-linecap="round" />
<polyline points="1945.6,374.2 1948.5,373.6 1952.0,371.7" fill="none" stroke="#000" stroke-width="3.2" stroke-linejoin="round" stroke-linecap="round" />
</g>
<circle cx="1716.0" cy="315.8" r="3.5" fill="#1a1a1a" stroke="#000" stroke-width="1.2"/>
<circle cx="1716.6" cy="315.2" r="3.5" fill="#1a1a1a" stroke="#000" stroke-width="1.2"/>
<circle cx="1717.1" cy="314.5" r="3.5" fill="#1a1a1a" stroke="#000" stroke-width="1.2"/>
<circle cx="1717.7" cy="313.9" r="3.5" fill="#1a1a1a" stroke="#000" stroke-width="1.2"/>
<circle cx="1718.3" cy="313.3" r="3.5" fill="#1a1a1a" stroke="#000" stroke-width="1.2"/>
<circle cx="1718.8" cy="312.6" r="3.5" fill="#1a1a1a" stroke="#000" stroke-width="1.2"/>
<circle cx="1719.4" cy="312.0" r="3.5" fill="#1a1a1a" stroke="#000" stroke-width="1.2"/>
<circle cx="1722.4" cy="308.2" r="4.0" fill="#ff0000" stroke="#000" stroke-width="1.3"/>
<path d="M1586.5 274.2v-8.7M1586.5 559.0v8.7M1653.6 274.2v-8.7M1653.6 559.0v8.7M1720.7 274.2v-8.7M1720.7 559.0v8.7M1787.7 274.2v-8.7M1787.7 559.0v8.7M1854.8 274.2v-8.7M1854.8 559.0v8.7M1921.8 274.2v-8.7M1921.8 559.0v8.7M1564.2 509.5h-8.7M1966.5 509.5h8.7M1564.2 433.5h-8.7M1966.5 433.5h8.7M1564.2 355.2h-8.7M1966.5 355.2h8.7M1564.2 274.2h-8.7M1966.5 274.2h8.7" stroke="#000" stroke-width="2.8" fill="none"/>
<path d="M1564.2 274.2v-3.4M1564.2 559.0v3.4M1608.9 274.2v-3.4M1608.9 559.0v3.4M1631.2 274.2v-3.4M1631.2 559.0v3.4M1676.0 274.2v-3.4M1676.0 559.0v3.4M1698.3 274.2v-3.4M1698.3 559.0v3.4M1743.0 274.2v-3.4M1743.0 559.0v3.4M1765.3 274.2v-3.4M1765.3 559.0v3.4M1810.0 274.2v-3.4M1810.0 559.0v3.4M1832.4 274.2v-3.4M1832.4 559.0v3.4M1877.1 274.2v-3.4M1877.1 559.0v3.4M1899.5 274.2v-3.4M1899.5 559.0v3.4M1944.2 274.2v-3.4M1944.2 559.0v3.4M1966.5 274.2v-3.4M1966.5 559.0v3.4M1564.2 559.0h-3.2M1966.5 559.0h3.0M1564.2 534.3h-3.2M1966.5 534.3h3.0M1564.2 484.4h-3.2M1966.5 484.4h3.0M1564.2 459.1h-3.2M1966.5 459.1h3.0M1564.2 407.7h-3.2M1966.5 407.7h3.0M1564.2 381.6h-3.2M1966.5 381.6h3.0M1564.2 328.5h-3.2M1966.5 328.5h3.0M1564.2 301.5h-3.2M1966.5 301.5h3.0" stroke="#000" stroke-width="1.5" fill="none"/>
<text x="1549.4" y="283.7" font-size="22.3" text-anchor="end">36°N</text>
<text x="1549.4" y="364.7" font-size="22.3" text-anchor="end">33°N</text>
<text x="1549.4" y="443.0" font-size="22.3" text-anchor="end">30°N</text>
<text x="1549.4" y="519.0" font-size="22.3" text-anchor="end">27°N</text>
<text transform="translate(1584.8 604.2) rotate(-45)" y="8.2" font-size="22.57" text-anchor="middle">81°W</text>
<text transform="translate(1651.9 604.2) rotate(-45)" y="8.2" font-size="22.57" text-anchor="middle">78°W</text>
<text transform="translate(1719.0 604.2) rotate(-45)" y="8.2" font-size="22.57" text-anchor="middle">75°W</text>
<text transform="translate(1786.0 604.2) rotate(-45)" y="8.2" font-size="22.57" text-anchor="middle">72°W</text>
<text transform="translate(1853.0 604.2) rotate(-45)" y="8.2" font-size="22.57" text-anchor="middle">69°W</text>
<text transform="translate(1920.1 604.2) rotate(-45)" y="8.2" font-size="22.57" text-anchor="middle">66°W</text>
<rect x="1683.2" y="652.7" width="164.8" height="144" rx="3.6" fill="#fff" stroke="#cccccc" stroke-width="1.7"/>
<path d="M1691.1 672.2H1738.7" stroke="#0000ff" stroke-width="2.6"/>
<circle cx="1714.9" cy="672.2" r="5.9" fill="#0000ff"/>
<text x="1754.9" y="680.5" font-size="22.4">sam</text>
<path d="M1691.1 706.3H1738.7" stroke="#ff0000" stroke-width="2.6"/>
<circle cx="1714.9" cy="706.3" r="5.9" fill="#ff0000"/>
<text x="1754.9" y="714.4" font-size="22.4">RTOFS</text>
<path d="M1691.1 740.4H1738.7" stroke="#008000" stroke-width="2.6"/>
<circle cx="1714.9" cy="740.4" r="5.9" fill="#008000"/>
<text x="1754.9" y="748.4" font-size="22.4">ESPC</text>
<path d="M1691.1 774.8H1738.7" stroke="#ff00ff" stroke-width="2.6"/>
<circle cx="1714.9" cy="774.8" r="5.9" fill="#ff00ff"/>
<text x="1754.9" y="782.6" font-size="22.4">CMEMS</text>
</svg></body></html>
